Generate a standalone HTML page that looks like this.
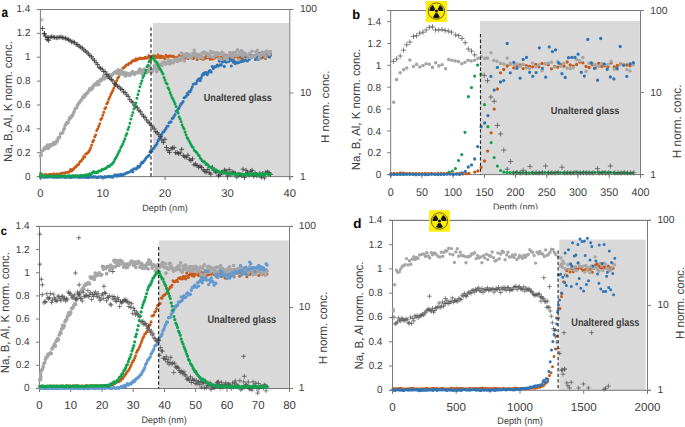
<!DOCTYPE html>
<html><head><meta charset="utf-8"><title>Depth profiles</title><style>
html,body{margin:0;padding:0;background:#fff;width:685px;height:427px;overflow:hidden}
svg{display:block}
text{font-family:"Liberation Sans",sans-serif;text-rendering:geometricPrecision}
</style></head><body>
<svg width="685" height="427" viewBox="0 0 685 427">
<rect x="0" y="0" width="685" height="427" fill="#fff"/>
<rect x="153" y="23" width="136" height="153.6" fill="#d9d9d9"/>
<line x1="36.9" y1="9.5" x2="293.3" y2="9.5" stroke="#7a7a7a" stroke-width="1"/>
<line x1="40.4" y1="9.5" x2="40.4" y2="180.1" stroke="#7a7a7a" stroke-width="1"/>
<line x1="289.8" y1="9.5" x2="289.8" y2="180.1" stroke="#7a7a7a" stroke-width="1"/>
<line x1="36.9" y1="176.6" x2="293.3" y2="176.6" stroke="#7a7a7a" stroke-width="1"/>
<line x1="36.9" y1="176.6" x2="40.4" y2="176.6" stroke="#7a7a7a" stroke-width="1"/>
<line x1="36.9" y1="152.7" x2="40.4" y2="152.7" stroke="#7a7a7a" stroke-width="1"/>
<line x1="36.9" y1="128.8" x2="40.4" y2="128.8" stroke="#7a7a7a" stroke-width="1"/>
<line x1="36.9" y1="105" x2="40.4" y2="105" stroke="#7a7a7a" stroke-width="1"/>
<line x1="36.9" y1="81.1" x2="40.4" y2="81.1" stroke="#7a7a7a" stroke-width="1"/>
<line x1="36.9" y1="57.2" x2="40.4" y2="57.2" stroke="#7a7a7a" stroke-width="1"/>
<line x1="36.9" y1="33.4" x2="40.4" y2="33.4" stroke="#7a7a7a" stroke-width="1"/>
<line x1="36.9" y1="9.5" x2="40.4" y2="9.5" stroke="#7a7a7a" stroke-width="1"/>
<line x1="289.8" y1="176.6" x2="293.3" y2="176.6" stroke="#7a7a7a" stroke-width="1"/>
<line x1="289.8" y1="93" x2="293.3" y2="93" stroke="#7a7a7a" stroke-width="1"/>
<line x1="289.8" y1="9.5" x2="293.3" y2="9.5" stroke="#7a7a7a" stroke-width="1"/>
<line x1="40.4" y1="176.6" x2="40.4" y2="180.1" stroke="#7a7a7a" stroke-width="1"/>
<line x1="102.7" y1="176.6" x2="102.7" y2="180.1" stroke="#7a7a7a" stroke-width="1"/>
<line x1="165.1" y1="176.6" x2="165.1" y2="180.1" stroke="#7a7a7a" stroke-width="1"/>
<line x1="227.4" y1="176.6" x2="227.4" y2="180.1" stroke="#7a7a7a" stroke-width="1"/>
<line x1="289.8" y1="176.6" x2="289.8" y2="180.1" stroke="#7a7a7a" stroke-width="1"/>
<rect x="480" y="21.1" width="159.9" height="153.5" fill="#d9d9d9"/>
<line x1="387.2" y1="10.5" x2="644" y2="10.5" stroke="#7a7a7a" stroke-width="1"/>
<line x1="390.7" y1="10.5" x2="390.7" y2="178.1" stroke="#7a7a7a" stroke-width="1"/>
<line x1="640.5" y1="10.5" x2="640.5" y2="178.1" stroke="#7a7a7a" stroke-width="1"/>
<line x1="387.2" y1="174.6" x2="644" y2="174.6" stroke="#7a7a7a" stroke-width="1"/>
<line x1="387.2" y1="174.6" x2="390.7" y2="174.6" stroke="#7a7a7a" stroke-width="1"/>
<line x1="387.2" y1="152.7" x2="390.7" y2="152.7" stroke="#7a7a7a" stroke-width="1"/>
<line x1="387.2" y1="130.9" x2="390.7" y2="130.9" stroke="#7a7a7a" stroke-width="1"/>
<line x1="387.2" y1="109" x2="390.7" y2="109" stroke="#7a7a7a" stroke-width="1"/>
<line x1="387.2" y1="87.2" x2="390.7" y2="87.2" stroke="#7a7a7a" stroke-width="1"/>
<line x1="387.2" y1="65.3" x2="390.7" y2="65.3" stroke="#7a7a7a" stroke-width="1"/>
<line x1="387.2" y1="43.5" x2="390.7" y2="43.5" stroke="#7a7a7a" stroke-width="1"/>
<line x1="387.2" y1="21.6" x2="390.7" y2="21.6" stroke="#7a7a7a" stroke-width="1"/>
<line x1="640.5" y1="174.6" x2="644" y2="174.6" stroke="#7a7a7a" stroke-width="1"/>
<line x1="640.5" y1="92.5" x2="644" y2="92.5" stroke="#7a7a7a" stroke-width="1"/>
<line x1="640.5" y1="10.5" x2="644" y2="10.5" stroke="#7a7a7a" stroke-width="1"/>
<line x1="390.7" y1="174.6" x2="390.7" y2="178.1" stroke="#7a7a7a" stroke-width="1"/>
<line x1="421.9" y1="174.6" x2="421.9" y2="178.1" stroke="#7a7a7a" stroke-width="1"/>
<line x1="453.1" y1="174.6" x2="453.1" y2="178.1" stroke="#7a7a7a" stroke-width="1"/>
<line x1="484.4" y1="174.6" x2="484.4" y2="178.1" stroke="#7a7a7a" stroke-width="1"/>
<line x1="515.6" y1="174.6" x2="515.6" y2="178.1" stroke="#7a7a7a" stroke-width="1"/>
<line x1="546.8" y1="174.6" x2="546.8" y2="178.1" stroke="#7a7a7a" stroke-width="1"/>
<line x1="578" y1="174.6" x2="578" y2="178.1" stroke="#7a7a7a" stroke-width="1"/>
<line x1="609.2" y1="174.6" x2="609.2" y2="178.1" stroke="#7a7a7a" stroke-width="1"/>
<line x1="640.5" y1="174.6" x2="640.5" y2="178.1" stroke="#7a7a7a" stroke-width="1"/>
<rect x="158.9" y="240.5" width="129.9" height="148" fill="#d9d9d9"/>
<line x1="36" y1="226.4" x2="293" y2="226.4" stroke="#7a7a7a" stroke-width="1"/>
<line x1="39.5" y1="226.4" x2="39.5" y2="392" stroke="#7a7a7a" stroke-width="1"/>
<line x1="289.5" y1="226.4" x2="289.5" y2="392" stroke="#7a7a7a" stroke-width="1"/>
<line x1="36" y1="388.5" x2="293" y2="388.5" stroke="#7a7a7a" stroke-width="1"/>
<line x1="36" y1="388.5" x2="39.5" y2="388.5" stroke="#7a7a7a" stroke-width="1"/>
<line x1="36" y1="365.3" x2="39.5" y2="365.3" stroke="#7a7a7a" stroke-width="1"/>
<line x1="36" y1="342.2" x2="39.5" y2="342.2" stroke="#7a7a7a" stroke-width="1"/>
<line x1="36" y1="319" x2="39.5" y2="319" stroke="#7a7a7a" stroke-width="1"/>
<line x1="36" y1="295.9" x2="39.5" y2="295.9" stroke="#7a7a7a" stroke-width="1"/>
<line x1="36" y1="272.7" x2="39.5" y2="272.7" stroke="#7a7a7a" stroke-width="1"/>
<line x1="36" y1="249.6" x2="39.5" y2="249.6" stroke="#7a7a7a" stroke-width="1"/>
<line x1="36" y1="226.4" x2="39.5" y2="226.4" stroke="#7a7a7a" stroke-width="1"/>
<line x1="289.5" y1="388.5" x2="293" y2="388.5" stroke="#7a7a7a" stroke-width="1"/>
<line x1="289.5" y1="307.5" x2="293" y2="307.5" stroke="#7a7a7a" stroke-width="1"/>
<line x1="289.5" y1="226.4" x2="293" y2="226.4" stroke="#7a7a7a" stroke-width="1"/>
<line x1="39.5" y1="388.5" x2="39.5" y2="392" stroke="#7a7a7a" stroke-width="1"/>
<line x1="70.7" y1="388.5" x2="70.7" y2="392" stroke="#7a7a7a" stroke-width="1"/>
<line x1="102" y1="388.5" x2="102" y2="392" stroke="#7a7a7a" stroke-width="1"/>
<line x1="133.2" y1="388.5" x2="133.2" y2="392" stroke="#7a7a7a" stroke-width="1"/>
<line x1="164.5" y1="388.5" x2="164.5" y2="392" stroke="#7a7a7a" stroke-width="1"/>
<line x1="195.7" y1="388.5" x2="195.7" y2="392" stroke="#7a7a7a" stroke-width="1"/>
<line x1="227" y1="388.5" x2="227" y2="392" stroke="#7a7a7a" stroke-width="1"/>
<line x1="258.2" y1="388.5" x2="258.2" y2="392" stroke="#7a7a7a" stroke-width="1"/>
<line x1="289.5" y1="388.5" x2="289.5" y2="392" stroke="#7a7a7a" stroke-width="1"/>
<rect x="559.3" y="239.6" width="86.3" height="150.7" fill="#d9d9d9"/>
<line x1="389" y1="220.4" x2="651" y2="220.4" stroke="#7a7a7a" stroke-width="1"/>
<line x1="392.5" y1="220.4" x2="392.5" y2="393.8" stroke="#7a7a7a" stroke-width="1"/>
<line x1="647.5" y1="220.4" x2="647.5" y2="393.8" stroke="#7a7a7a" stroke-width="1"/>
<line x1="389" y1="390.3" x2="651" y2="390.3" stroke="#7a7a7a" stroke-width="1"/>
<line x1="389" y1="390.3" x2="392.5" y2="390.3" stroke="#7a7a7a" stroke-width="1"/>
<line x1="389" y1="366" x2="392.5" y2="366" stroke="#7a7a7a" stroke-width="1"/>
<line x1="389" y1="341.8" x2="392.5" y2="341.8" stroke="#7a7a7a" stroke-width="1"/>
<line x1="389" y1="317.5" x2="392.5" y2="317.5" stroke="#7a7a7a" stroke-width="1"/>
<line x1="389" y1="293.2" x2="392.5" y2="293.2" stroke="#7a7a7a" stroke-width="1"/>
<line x1="389" y1="268.9" x2="392.5" y2="268.9" stroke="#7a7a7a" stroke-width="1"/>
<line x1="389" y1="244.7" x2="392.5" y2="244.7" stroke="#7a7a7a" stroke-width="1"/>
<line x1="389" y1="220.4" x2="392.5" y2="220.4" stroke="#7a7a7a" stroke-width="1"/>
<line x1="647.5" y1="390.3" x2="651" y2="390.3" stroke="#7a7a7a" stroke-width="1"/>
<line x1="647.5" y1="305.4" x2="651" y2="305.4" stroke="#7a7a7a" stroke-width="1"/>
<line x1="647.5" y1="220.4" x2="651" y2="220.4" stroke="#7a7a7a" stroke-width="1"/>
<line x1="392.5" y1="390.3" x2="392.5" y2="393.8" stroke="#7a7a7a" stroke-width="1"/>
<line x1="456.2" y1="390.3" x2="456.2" y2="393.8" stroke="#7a7a7a" stroke-width="1"/>
<line x1="520" y1="390.3" x2="520" y2="393.8" stroke="#7a7a7a" stroke-width="1"/>
<line x1="583.7" y1="390.3" x2="583.7" y2="393.8" stroke="#7a7a7a" stroke-width="1"/>
<line x1="647.5" y1="390.3" x2="647.5" y2="393.8" stroke="#7a7a7a" stroke-width="1"/>
<path d="M40.5 175h0M41.5 174.3h0M42.5 175.3h0M43.5 174.9h0M44.5 174.7h0M45.5 174.7h0M46.5 174.6h0M47.5 175.2h0M48.5 175.2h0M49.5 174.3h0M50.5 174.5h0M51.5 174.6h0M52.6 174.9h0M53.6 173.7h0M54.6 174.6h0M55.6 174.8h0M56.6 174.1h0M57.6 174.1h0M58.6 174.4h0M59.6 174h0M60.6 173.4h0M61.6 173.3h0M62.6 173.2h0M63.6 172.9h0M64.6 173.1h0M65.6 172.6h0M66.6 172.5h0M67.6 172.3h0M68.6 172.2h0M69.6 171.2h0M70.6 169.5h0M71.6 170.9h0M72.6 169.3h0M73.6 169.3h0M74.6 167.5h0M75.7 167.1h0M76.7 165.8h0M77.7 164.7h0M78.7 164.3h0M79.7 161.9h0M80.7 161.2h0M81.7 160.2h0M82.7 158.7h0M83.7 156.6h0M84.7 157h0M85.7 153.9h0M86.7 153.4h0M87.7 152.7h0M88.7 151.7h0M89.7 150.1h0M90.7 147.7h0M91.7 145h0M92.7 141.8h0M93.7 140.2h0M94.7 136.8h0M95.7 135.1h0M96.7 130.6h0M97.7 128.7h0M98.8 126.2h0M99.8 123.8h0M100.8 119.4h0M101.8 118.2h0M102.8 115.2h0M103.8 112.2h0M104.8 108.7h0M105.8 107.4h0M106.8 103.8h0M107.8 102.2h0M108.8 99.3h0M109.8 97h0M110.8 94.6h0M111.8 92.4h0M112.8 90.6h0M113.8 88.3h0M114.8 85.6h0M115.8 82.8h0M116.8 80.4h0M117.8 78.1h0M118.8 76.7h0M119.8 73.3h0M120.8 71.4h0M121.9 70.2h0M122.9 67.9h0M123.9 67.6h0M124.9 66.7h0M125.9 65.3h0M126.9 64.7h0M127.9 64.8h0M128.9 63.5h0M129.9 63h0M130.9 63h0M131.9 61.4h0M132.9 60.5h0M133.9 60.7h0M134.9 60.5h0M135.9 58.7h0M136.9 59.9h0M137.9 59h0M138.9 58.7h0M139.9 58.1h0M140.9 58.3h0M141.9 58.7h0M142.9 58.2h0M143.9 58.2h0M145 57.3h0M146 58.3h0M147 58h0M148 57.1h0M149 55.5h0M150 57h0M151 59.9h0M152 56.8h0M153 55.7h0M154 58.6h0M155 56h0M156 57.2h0M157 57.4h0M158 54.9h0M159 56.7h0M160 57.8h0M161 56.1h0M162 57.2h0M163 56.5h0M164 57.6h0M165 58.5h0M166 55.3h0M167.1 56.2h0M168.1 57h0M169.1 55.9h0M170.1 55.7h0M171.1 56.2h0M172.1 56.4h0M173.1 56h0M174.1 57.1h0M175.1 57.6h0M176.1 57.6h0M177.1 57.6h0M178.1 58.2h0M179.1 55.4h0M180.1 56.8h0M181.1 57.1h0M182.1 57.5h0M183.1 55.2h0M184.1 59.1h0M185.1 56.1h0M186.1 57.4h0M187.1 57.9h0M188.1 58.4h0M189.1 56.5h0M190.2 56.7h0M191.2 57.7h0M192.2 58h0M193.2 58.4h0M194.2 57.4h0M195.2 56.7h0M196.2 56h0M197.2 59.5h0M198.2 56.1h0M199.2 58.4h0M200.2 58h0M201.2 58.5h0M202.2 58.8h0M203.2 59.2h0M204.2 57.7h0M205.2 58.2h0M206.2 55.6h0M207.2 57.8h0M208.2 56.8h0M209.2 57.6h0M210.2 59.2h0M211.2 57.9h0M212.2 59h0M213.3 57.5h0M214.3 58.2h0M215.3 57.2h0M216.3 54.9h0M217.3 56.8h0M218.3 57.3h0M219.3 57.7h0M220.3 57.5h0M221.3 57.3h0M222.3 58.4h0M223.3 58h0M224.3 56.9h0M225.3 58.2h0M226.3 55h0M227.3 56.8h0M228.3 56.9h0M229.3 58.5h0M230.3 56.4h0M231.3 55.3h0M232.3 57.1h0M233.3 58.7h0M234.3 56.6h0M235.3 56.7h0M236.4 56.5h0M237.4 56.7h0M238.4 58.1h0M239.4 58.8h0M240.4 57.1h0M241.4 56.5h0M242.4 58.6h0M243.4 56.6h0M244.4 56.6h0M245.4 56.1h0M246.4 56.1h0M247.4 56.7h0M248.4 56.1h0M249.4 56.8h0M250.4 56.5h0M251.4 57h0M252.4 55.9h0M253.4 56.1h0M254.4 56.5h0M255.4 56.3h0M256.4 56.3h0M257.4 57.5h0M258.4 55h0M259.5 54h0M260.5 57h0M261.5 55.9h0M262.5 57.6h0M263.5 56h0M264.5 54.8h0M265.5 58.5h0M266.5 56.5h0M267.5 55.6h0M268.5 55.2h0M269.5 56.7h0M270.5 55.3h0" stroke="#c85a18" stroke-width="3" stroke-linecap="round" fill="none"/>
<path d="M40.5 177.3h0M41.5 177.3h0M42.5 177h0M43.5 177.1h0M44.5 177.1h0M45.5 177h0M46.5 177.2h0M47.5 176.8h0M48.5 176.9h0M49.5 177h0M50.5 176.6h0M51.5 176.8h0M52.6 177.1h0M53.6 177.1h0M54.6 176.4h0M55.6 177.2h0M56.6 177.1h0M57.6 177.2h0M58.6 177h0M59.6 177.2h0M60.6 176.7h0M61.6 177h0M62.6 176.7h0M63.6 176.9h0M64.6 177.3h0M65.6 177.4h0M66.6 177h0M67.6 176.9h0M68.6 177.2h0M69.6 177.1h0M70.6 177.5h0M71.6 177.2h0M72.6 176.4h0M73.6 177h0M74.6 176.9h0M75.7 176.8h0M76.7 177h0M77.7 177h0M78.7 176.9h0M79.7 177.4h0M80.7 177.1h0M81.7 177.1h0M82.7 177h0M83.7 177.3h0M84.7 176.7h0M85.7 177.3h0M86.7 176.9h0M87.7 177.4h0M88.7 177.4h0M89.7 177.1h0M90.7 176.9h0M91.7 177.1h0M92.7 177.1h0M93.7 176.6h0M94.7 176.9h0M95.7 176.8h0M96.7 177.4h0M97.7 177.4h0M98.8 176.8h0M99.8 176.9h0M100.8 176.7h0M101.8 177.1h0M102.8 177.2h0M103.8 177.4h0M104.8 176.6h0M105.8 177.1h0M106.8 176.8h0M107.8 176.6h0M108.8 176.6h0M109.8 176.4h0M110.8 176.9h0M111.8 176.5h0M112.8 177.3h0M113.8 176h0M114.8 174.9h0M115.8 175.4h0M116.8 176.2h0M117.8 174.8h0M118.8 175.1h0M119.8 175.8h0M120.8 174.3h0M121.9 175.6h0M122.9 174.9h0M123.9 174h0M124.9 174h0M125.9 173.3h0M126.9 172.9h0M127.9 172.5h0M128.9 172.3h0M129.9 171.8h0M130.9 170.8h0M131.9 170.1h0M132.9 171.7h0M133.9 168.8h0M134.9 168.8h0M135.9 169.1h0M136.9 168.2h0M137.9 166.2h0M138.9 167.3h0M139.9 166.3h0M140.9 163.9h0M141.9 162.4h0M142.9 162.6h0M143.9 161h0M145 159.7h0M146 158.1h0M147 157h0M148 156.2h0M149 155.4h0M150 151.9h0M151 150.3h0M152 151.3h0M153 148.5h0M154 148.1h0M155 146.1h0M156 145.3h0M157 143.4h0M158 140.9h0M159 139.3h0M160 138h0M161 136.7h0M162 134.1h0M163 132h0M164 131.6h0M165 130h0M166 128.4h0M167.1 126.3h0M168.1 126h0M169.1 122.8h0M170.1 122.1h0M171.1 121.8h0M172.1 118.5h0M173.1 117.9h0M174.1 116.2h0M175.1 114.5h0M176.1 111.3h0M177.1 111.5h0M178.1 109.2h0M179.1 107.7h0M180.1 105.8h0M181.1 103.9h0M182.1 103.1h0M183.1 101.6h0M184.1 97.8h0M185.1 97.2h0M186.1 96.2h0M187.1 93.5h0M188.1 94.6h0M189.1 91.6h0M190.2 91.7h0M191.2 89.5h0M192.2 87.1h0M193.2 84.2h0M194.2 84h0M195.2 83.6h0M196.2 83.6h0M197.2 80.9h0M198.2 79.6h0M199.2 78.9h0M200.2 80.6h0M201.2 77.9h0M202.2 75.4h0M203.2 73.5h0M204.2 74.1h0M205.2 72.5h0M206.2 72.5h0M207.2 74.7h0M208.2 72.7h0M209.2 71.1h0M210.2 70.6h0M211.2 72.1h0M212.2 66.5h0M213.3 68.6h0M214.3 66.9h0M215.3 66.9h0M216.3 66.3h0M217.3 65.1h0M218.3 66.1h0M219.3 61.1h0M220.3 64.8h0M221.3 65.1h0M222.3 62h0M223.3 61.7h0M224.3 66.4h0M225.3 61.4h0M226.3 62.1h0M227.3 61.3h0M228.3 61.4h0M229.3 61.1h0M230.3 58.5h0M231.3 66h0M232.3 60.6h0M233.3 62.3h0M234.3 61.3h0M235.3 63.6h0M236.4 62.3h0M237.4 62.8h0M238.4 62.7h0M239.4 61.9h0M240.4 60.3h0M241.4 61.6h0M242.4 57.1h0M243.4 61.1h0M244.4 60.6h0M245.4 59.7h0M246.4 56.7h0M247.4 61h0M248.4 57.3h0M249.4 59.3h0M250.4 54.8h0M251.4 57.3h0M252.4 56.3h0M253.4 55.8h0M254.4 55.7h0M255.4 59.5h0M256.4 56.2h0M257.4 56.6h0M258.4 59.5h0M259.5 53.3h0M260.5 58.2h0M261.5 54.9h0M262.5 54.4h0M263.5 54.7h0M264.5 52.2h0M265.5 52.6h0M266.5 53.3h0M267.5 54.2h0M268.5 56.3h0M269.5 56.9h0M270.5 54.4h0" stroke="#2f74b5" stroke-width="3.1" stroke-linecap="round" fill="none"/>
<path d="M40.5 156.1h0M41.3 154.9h0M42 151.3h0M42.8 150.6h0M43.6 149.9h0M44.3 148.5h0M45.1 147.3h0M45.9 148.5h0M46.7 147.7h0M47.4 145.1h0M48.2 148.5h0M49 146.9h0M49.7 144.9h0M50.5 146.1h0M51.3 144.5h0M52 144.5h0M52.8 144.9h0M53.6 142.6h0M54.3 143.8h0M55.1 143.9h0M55.9 143.1h0M56.7 140.9h0M57.4 141.1h0M58.2 137.9h0M59 138h0M59.7 137.1h0M60.5 133.8h0M61.3 133.3h0M62 133.3h0M62.8 132.7h0M63.6 129.7h0M64.3 128.5h0M65.1 125.6h0M65.9 124.1h0M66.7 122.7h0M67.4 123.2h0M68.2 122.2h0M69 119.7h0M69.7 117.9h0M70.5 118.1h0M71.3 116.9h0M72 115.3h0M72.8 115.3h0M73.6 112.7h0M74.3 111.3h0M75.1 108.8h0M75.9 108.3h0M76.7 107.9h0M77.4 105.4h0M78.2 104.1h0M79 103.2h0M79.7 101.9h0M80.5 101h0M81.3 99.9h0M82 99h0M82.8 97h0M83.6 97.4h0M84.3 95.2h0M85.1 96.1h0M85.9 93.8h0M86.7 93.7h0M87.4 93.1h0M88.2 91.3h0M89 91h0M89.7 88.7h0M90.5 88.7h0M91.3 89.5h0M92 87.2h0M92.8 88.1h0M93.6 85.6h0M94.3 85.3h0M95.1 83.8h0M95.9 84.8h0M96.7 84.9h0M97.4 81.8h0M98.2 82.4h0M99 84.5h0M99.7 80.9h0M100.5 79.5h0M101.3 80.7h0M102 79.2h0M102.8 77.9h0M103.6 75.7h0M104.3 79h0M105.1 76.4h0M105.9 76.8h0M106.7 74.7h0M107.4 77.8h0M108.2 76.6h0M109 76.6h0M109.7 74.7h0M110.5 75.2h0M111.3 75.5h0M112 75.4h0M112.8 74.1h0M113.6 73.3h0M114.3 72.6h0M115.1 71.9h0M115.9 71.5h0M116.7 73.4h0M117.4 72.5h0M118.2 69.9h0M119 72.7h0M119.7 74.5h0M120.5 72.6h0M121.3 70.2h0M122 72.8h0M122.8 74.2h0M123.6 73.4h0M124.3 72.5h0M125.1 75.9h0M125.9 76h0M126.7 73h0M127.4 74.4h0M128.2 73.8h0M129 74.4h0M129.7 75.4h0M130.5 74.4h0M131.3 73.2h0M132 72h0M132.8 71.7h0M133.6 72.8h0M134.3 74.4h0M135.1 73h0M135.9 72.5h0M136.7 72.7h0M137.4 72.3h0M138.2 72.9h0M139 70.3h0M139.7 69h0M140.5 71.2h0M141.3 70h0M142 74.1h0M142.8 71.4h0M143.6 71.1h0M144.3 69.1h0M145.1 71.8h0M145.9 70.3h0M146.7 72.8h0M147.4 72.3h0M148.2 69.7h0M149 71.3h0M149.7 66.4h0M150.5 68.9h0M151.3 72.6h0M152 71.4h0M152.8 69.9h0M153.6 69.1h0M154.3 65.9h0M155.1 65.7h0M155.9 68.7h0M156.7 71.6h0M157.4 63h0M158.2 68.6h0M159 68.2h0M159.7 68.6h0M160.5 64.4h0M161.3 64.7h0M162 65.5h0M162.8 62.8h0M163.6 62h0M164.3 62.3h0M165.1 63.6h0M165.9 64.1h0M166.7 62.9h0M167.4 62.8h0M168.2 60.8h0M169 60.4h0M169.7 63.9h0M170.5 61.1h0M171.3 60.7h0M172 62.5h0M172.8 62.8h0M173.6 62.6h0M174.3 60.5h0M175.1 59.3h0M175.9 59.7h0M176.7 59.2h0M177.4 61.5h0M178.2 58.9h0M179 59.4h0M179.7 57.8h0M180.5 60.4h0M181.3 53h0M182 57.9h0M182.8 58.4h0M183.6 54.2h0M184.3 60.9h0M185.1 55.9h0M185.9 55.7h0M186.7 53.6h0M187.4 57.6h0M188.2 56.1h0M189 54.3h0M189.7 56h0M190.5 56.9h0M191.3 57.9h0M192 55.8h0M192.8 53.2h0M193.6 54h0M194.3 50.3h0M195.1 53.6h0M195.9 56.6h0M196.7 56h0M197.4 54.8h0M198.2 54.2h0M199 58.3h0M199.7 55.5h0M200.5 56.8h0M201.3 55.7h0M202 53.4h0M202.8 58.1h0M203.6 52.2h0M204.3 52.3h0M205.1 53.9h0M205.9 53.3h0M206.7 53.6h0M207.4 53.5h0M208.2 56.8h0M209 54.9h0M209.7 55.5h0M210.5 51.4h0M211.3 53h0M212 57h0M212.8 52.2h0M213.6 57.2h0M214.3 52.5h0M215.1 55.3h0M215.9 52.9h0M216.7 55.1h0M217.4 52.8h0M218.2 54.1h0M219 58.2h0M219.7 53.9h0M220.5 58.9h0M221.3 53.7h0M222 52.2h0M222.8 54.8h0M223.6 53.8h0M224.3 58.3h0M225.1 56.4h0M225.9 57.1h0M226.7 55.9h0M227.4 59.8h0M228.2 56.3h0M229 55.7h0M229.7 52.9h0M230.5 52.7h0M231.3 55h0M232 56.7h0M232.8 56.9h0M233.6 52.6h0M234.3 55.7h0M235.1 55h0M235.9 52.2h0M236.7 55.6h0M237.4 49.8h0M238.2 55.1h0M239 59.8h0M239.7 52.4h0M240.5 54.6h0M241.3 50.6h0M242 53h0M242.8 56.1h0M243.6 52.4h0M244.3 54.5h0M245.1 53.8h0M245.9 53.7h0M246.7 54.9h0M247.4 55.5h0M248.2 57.1h0M249 56.3h0M249.7 53.3h0M250.5 57.5h0M251.3 57.1h0M252 51.2h0M252.8 55.9h0M253.6 56.3h0M254.3 56.5h0M255.1 55.7h0M255.9 51.8h0M256.7 53.9h0M257.4 50.2h0M258.2 54.2h0M259 58.8h0M259.7 55.9h0M260.5 56.3h0M261.3 53.4h0M262 52.4h0M262.8 52.3h0M263.6 54.8h0M264.3 52.8h0M265.1 53.2h0M265.9 56.9h0M266.7 51.1h0M267.4 51.7h0M268.2 53.4h0M269 54.3h0M269.7 54.2h0M270.5 51.6h0" stroke="#a6a6a6" stroke-width="3.6" stroke-linecap="round" fill="none"/>
<path d="M40.1 28.5h4.8M42.5 26.1v4.8M41.6 33.9h4.8M44 31.5v4.8M43.2 36.2h4.8M45.6 33.8v4.8M44.7 37.5h4.8M47.1 35.1v4.8M46.2 37.6h4.8M48.6 35.2v4.8M47.8 37.5h4.8M50.2 35.1v4.8M49.3 36.6h4.8M51.7 34.2v4.8M50.8 37.2h4.8M53.2 34.8v4.8M52.3 37.4h4.8M54.7 35v4.8M53.9 37.9h4.8M56.3 35.5v4.8M55.4 37.5h4.8M57.8 35.1v4.8M56.9 37.3h4.8M59.3 34.9v4.8M58.5 36.9h4.8M60.9 34.5v4.8M60 37.6h4.8M62.4 35.2v4.8M61.5 38h4.8M63.9 35.6v4.8M63.1 38.3h4.8M65.5 35.9v4.8M64.6 38.9h4.8M67 36.5v4.8M66.1 39.7h4.8M68.5 37.3v4.8M67.6 40.4h4.8M70 38v4.8M69.2 42h4.8M71.6 39.6v4.8M70.7 41.8h4.8M73.1 39.4v4.8M72.2 42.6h4.8M74.6 40.2v4.8M73.8 44.4h4.8M76.2 42v4.8M75.3 44.7h4.8M77.7 42.3v4.8M76.8 46.2h4.8M79.2 43.8v4.8M78.4 47.3h4.8M80.8 44.9v4.8M79.9 48.1h4.8M82.3 45.7v4.8M81.4 49.9h4.8M83.8 47.5v4.8M82.9 51.1h4.8M85.3 48.7v4.8M84.5 52.2h4.8M86.9 49.8v4.8M86 53.9h4.8M88.4 51.5v4.8M87.5 55.6h4.8M89.9 53.2v4.8M89.1 56.8h4.8M91.5 54.4v4.8M90.6 58.9h4.8M93 56.5v4.8M92.1 60.7h4.8M94.5 58.3v4.8M93.7 62.7h4.8M96.1 60.3v4.8M95.2 64.6h4.8M97.6 62.2v4.8M96.7 67.3h4.8M99.1 64.9v4.8M98.2 68.3h4.8M100.6 65.9v4.8M99.8 69.2h4.8M102.2 66.8v4.8M101.3 71.5h4.8M103.7 69.1v4.8M102.8 71.8h4.8M105.2 69.4v4.8M104.4 74.4h4.8M106.8 72v4.8M105.9 76.2h4.8M108.3 73.8v4.8M107.4 78.2h4.8M109.8 75.8v4.8M109 79.5h4.8M111.4 77.1v4.8M110.5 80.9h4.8M112.9 78.5v4.8M112 83.6h4.8M114.4 81.2v4.8M113.5 84.7h4.8M115.9 82.3v4.8M115.1 86.2h4.8M117.5 83.8v4.8M116.6 87h4.8M119 84.6v4.8M118.1 88.9h4.8M120.5 86.5v4.8M119.7 89.5h4.8M122.1 87.1v4.8M121.2 92h4.8M123.6 89.6v4.8M122.7 92.6h4.8M125.1 90.2v4.8M124.3 94.8h4.8M126.7 92.4v4.8M125.8 96.4h4.8M128.2 94v4.8M127.3 99.4h4.8M129.7 97v4.8M128.9 101.2h4.8M131.3 98.8v4.8M130.4 102.6h4.8M132.8 100.2v4.8M131.9 105.2h4.8M134.3 102.8v4.8M133.4 106.7h4.8M135.8 104.3v4.8M135 107.8h4.8M137.4 105.4v4.8M136.5 110.3h4.8M138.9 107.9v4.8M138 111.7h4.8M140.4 109.3v4.8M139.6 114.3h4.8M142 111.9v4.8M141.1 116.2h4.8M143.5 113.8v4.8M142.6 117.6h4.8M145 115.2v4.8M144.2 120h4.8M146.6 117.6v4.8M145.7 122h4.8M148.1 119.6v4.8M147.2 123h4.8M149.6 120.6v4.8M148.7 125.4h4.8M151.1 123v4.8M150.3 127.1h4.8M152.7 124.7v4.8M151.8 128.9h4.8M154.2 126.5v4.8M153.3 131.7h4.8M155.7 129.3v4.8M154.9 132.7h4.8M157.3 130.3v4.8M156.4 134.7h4.8M158.8 132.3v4.8M157.9 136.4h4.8M160.3 134v4.8M159.5 140h4.8M161.9 137.6v4.8M161 142.3h4.8M163.4 139.9v4.8M162.5 139.3h4.8M164.9 136.9v4.8M164 147.5h4.8M166.4 145.1v4.8M165.6 150.4h4.8M168 148v4.8M167.1 152.4h4.8M169.5 150v4.8M168.6 148.7h4.8M171 146.3v4.8M170.2 148h4.8M172.6 145.6v4.8M171.7 147.7h4.8M174.1 145.3v4.8M173.2 152.7h4.8M175.6 150.3v4.8M174.8 152.6h4.8M177.2 150.2v4.8M176.3 153.6h4.8M178.7 151.2v4.8M177.8 152.9h4.8M180.2 150.5v4.8M179.3 149.3h4.8M181.7 146.9v4.8M180.9 155.6h4.8M183.3 153.2v4.8M182.4 156.8h4.8M184.8 154.4v4.8M183.9 157.2h4.8M186.3 154.8v4.8M185.5 155.2h4.8M187.9 152.8v4.8M187 159.3h4.8M189.4 156.9v4.8M188.5 160.6h4.8M190.9 158.2v4.8M190.1 158.9h4.8M192.5 156.5v4.8M191.6 164.8h4.8M194 162.4v4.8M193.1 164h4.8M195.5 161.6v4.8M194.7 165.5h4.8M197.1 163.1v4.8M196.2 167.1h4.8M198.6 164.7v4.8M197.7 166.2h4.8M200.1 163.8v4.8M199.2 167.4h4.8M201.6 165v4.8M200.8 169.8h4.8M203.2 167.4v4.8M202.3 171.2h4.8M204.7 168.8v4.8M203.8 172.1h4.8M206.2 169.7v4.8M205.4 169.6h4.8M207.8 167.2v4.8M206.9 172.7h4.8M209.3 170.3v4.8M208.4 174.1h4.8M210.8 171.7v4.8M210 167.3h4.8M212.4 164.9v4.8M211.5 170.4h4.8M213.9 168v4.8M213 171.8h4.8M215.4 169.4v4.8M214.5 172.1h4.8M216.9 169.7v4.8M216.1 175.8h4.8M218.5 173.4v4.8M217.6 174.8h4.8M220 172.4v4.8M219.1 172.3h4.8M221.5 169.9v4.8M220.7 172.5h4.8M223.1 170.1v4.8M222.2 170h4.8M224.6 167.6v4.8M223.7 171h4.8M226.1 168.6v4.8M225.3 175.8h4.8M227.7 173.4v4.8M226.8 169.7h4.8M229.2 167.3v4.8M228.3 174.5h4.8M230.7 172.1v4.8M229.8 171.9h4.8M232.2 169.5v4.8M231.4 172.8h4.8M233.8 170.4v4.8M232.9 173.2h4.8M235.3 170.8v4.8M234.4 177.1h4.8M236.8 174.7v4.8M236 174.2h4.8M238.4 171.8v4.8M237.5 174.6h4.8M239.9 172.2v4.8M239 175.6h4.8M241.4 173.2v4.8M240.6 169.2h4.8M243 166.8v4.8M242.1 177.4h4.8M244.5 175v4.8M243.6 170.3h4.8M246 167.9v4.8M245.1 172.3h4.8M247.5 169.9v4.8M246.7 175.1h4.8M249.1 172.7v4.8M248.2 171.3h4.8M250.6 168.9v4.8M249.7 170.3h4.8M252.1 167.9v4.8M251.3 176.2h4.8M253.7 173.8v4.8M252.8 173.2h4.8M255.2 170.8v4.8M254.3 175.8h4.8M256.7 173.4v4.8M255.9 174.9h4.8M258.3 172.5v4.8M257.4 173.5h4.8M259.8 171.1v4.8M258.9 177.3h4.8M261.3 174.9v4.8M260.4 173.4h4.8M262.8 171v4.8M262 178h4.8M264.4 175.6v4.8M263.5 172.2h4.8M265.9 169.8v4.8M265 172h4.8M267.4 169.6v4.8M266.6 172.6h4.8M269 170.2v4.8M268.1 174.4h4.8M270.5 172v4.8M46.1 40.5h4.8M48.5 38.1v4.8M44.8 39.5h4.8M47.2 37.1v4.8M42.1 33.6h4.8M44.5 31.2v4.8" stroke="#353535" stroke-width="0.8" fill="none"/>
<path d="M39.7 19.8h4.2M41.8 17.7v4.2" stroke="#9a9a9a" stroke-width="0.8" fill="none"/>
<path d="M40.5 175.9h0M41.5 176.4h0M42.5 176.3h0M43.5 176.2h0M44.5 175.8h0M45.5 176.3h0M46.5 175.9h0M47.5 175.9h0M48.5 175.9h0M49.5 176h0M50.5 176.1h0M51.5 176.2h0M52.6 176.2h0M53.6 176.8h0M54.6 175.9h0M55.6 176.3h0M56.6 175.8h0M57.6 175.9h0M58.6 175.7h0M59.6 176.3h0M60.6 176h0M61.6 176h0M62.6 175.9h0M63.6 176.2h0M64.6 175.8h0M65.6 176h0M66.6 176.6h0M67.6 175.9h0M68.6 175.8h0M69.6 175.7h0M70.6 176.1h0M71.6 175.9h0M72.6 175.7h0M73.6 175.7h0M74.6 175.9h0M75.7 175.6h0M76.7 176.4h0M77.7 175.8h0M78.7 175.8h0M79.7 175.8h0M80.7 175.3h0M81.7 175.4h0M82.7 175.5h0M83.7 175.4h0M84.7 174.9h0M85.7 175.4h0M86.7 174.8h0M87.7 174.8h0M88.7 174.4h0M89.7 173.8h0M90.7 174.9h0M91.7 173.4h0M92.7 172.2h0M93.7 171.6h0M94.7 172.5h0M95.7 172.6h0M96.7 171.9h0M97.7 172.4h0M98.8 171h0M99.8 171h0M100.8 170.7h0M101.8 169.4h0M102.8 169.5h0M103.8 169h0M104.8 168.8h0M105.8 168.3h0M106.8 167.6h0M107.8 166.2h0M108.8 166.4h0M109.8 165.9h0M110.8 164.7h0M111.8 164.2h0M112.8 163.1h0M113.8 161.8h0M114.8 159.6h0M115.8 158.1h0M116.8 156.2h0M117.8 154.3h0M118.8 152.1h0M119.8 150.2h0M120.8 147.6h0M121.9 145.8h0M122.9 143.8h0M123.9 141.2h0M124.9 138.7h0M125.9 135.5h0M126.9 133.4h0M127.9 129.4h0M128.9 126.9h0M129.9 123.2h0M130.9 119h0M131.9 115.4h0M132.9 112.5h0M133.9 108.7h0M134.9 105.2h0M135.9 103.1h0M136.9 98.3h0M137.9 94.5h0M138.9 91.1h0M139.9 86.7h0M140.9 83.5h0M141.9 80.8h0M142.9 77.6h0M143.9 75.5h0M145 72.9h0M146 70.3h0M147 66.4h0M148 65.2h0M149 61.7h0M150 59.7h0M151 56.8h0M152 56.3h0M153 57.7h0M154 58.9h0M155 61h0M156 61.8h0M157 63.2h0M158 65.3h0M159 67.1h0M160 68.9h0M161 70.2h0M162 72.3h0M163 74h0M164 77.5h0M165 80h0M166 82.7h0M167.1 83.9h0M168.1 87.8h0M169.1 89.5h0M170.1 92.5h0M171.1 94.9h0M172.1 97.6h0M173.1 99.2h0M174.1 101.5h0M175.1 103.8h0M176.1 106.6h0M177.1 110.6h0M178.1 113h0M179.1 116.7h0M180.1 118.8h0M181.1 121.4h0M182.1 124.7h0M183.1 127.3h0M184.1 129h0M185.1 132.1h0M186.1 134.8h0M187.1 137.6h0M188.1 139h0M189.1 141h0M190.2 142.9h0M191.2 145h0M192.2 146.7h0M193.2 147.5h0M194.2 150.3h0M195.2 151.1h0M196.2 152.1h0M197.2 153.1h0M198.2 155.1h0M199.2 155.5h0M200.2 158h0M201.2 159.3h0M202.2 160.8h0M203.2 161.5h0M204.2 161.4h0M205.2 163.1h0M206.2 164.5h0M207.2 163.9h0M208.2 165.3h0M209.2 166.8h0M210.2 167.2h0M211.2 166.9h0M212.2 168.2h0M213.3 169.1h0M214.3 170.6h0M215.3 169.8h0M216.3 170h0M217.3 170.9h0M218.3 171.2h0M219.3 171.7h0M220.3 172.4h0M221.3 171.9h0M222.3 171.5h0M223.3 172.4h0M224.3 172.6h0M225.3 173.2h0M226.3 173.3h0M227.3 172.7h0M228.3 173.6h0M229.3 173.8h0M230.3 173.4h0M231.3 174h0M232.3 173.8h0M233.3 173.9h0M234.3 173.8h0M235.3 174.4h0M236.4 175.5h0M237.4 174.2h0M238.4 173.5h0M239.4 174h0M240.4 173.9h0M241.4 174.3h0M242.4 174.1h0M243.4 175.5h0M244.4 174.6h0M245.4 175.1h0M246.4 173.9h0M247.4 174.1h0M248.4 175.3h0M249.4 173.4h0M250.4 174.3h0M251.4 173.5h0M252.4 175h0M253.4 173.6h0M254.4 174.1h0M255.4 174.2h0M256.4 173.4h0M257.4 175.5h0M258.4 174.2h0M259.5 175.1h0M260.5 174h0M261.5 173.6h0M262.5 174.4h0M263.5 174.4h0M264.5 175.8h0M265.5 173.8h0M266.5 173.5h0M267.5 174h0M268.5 174.5h0M269.5 174.6h0M270.5 173.9h0M40.6 173.6h0M41.2 174.6h0" stroke="#12a24f" stroke-width="3" stroke-linecap="round" fill="none"/>
<line x1="151" y1="27.5" x2="151" y2="176.6" stroke="#2a2a2a" stroke-width="1.2" stroke-dasharray="3.3 2.3"/>
<text x="30.5" y="179.5" font-size="10.3" text-anchor="end" fill="#404040" textLength="5.56" lengthAdjust="spacingAndGlyphs">0</text>
<text x="30.6" y="155.6" font-size="10.3" text-anchor="end" fill="#404040" textLength="13.89" lengthAdjust="spacingAndGlyphs">0.2</text>
<text x="30.4" y="131.7" font-size="10.3" text-anchor="end" fill="#404040" textLength="13.89" lengthAdjust="spacingAndGlyphs">0.4</text>
<text x="30.5" y="107.9" font-size="10.3" text-anchor="end" fill="#404040" textLength="13.89" lengthAdjust="spacingAndGlyphs">0.6</text>
<text x="30.5" y="84" font-size="10.3" text-anchor="end" fill="#404040" textLength="13.89" lengthAdjust="spacingAndGlyphs">0.8</text>
<text x="30.6" y="60.1" font-size="10.3" text-anchor="end" fill="#404040" textLength="5.56" lengthAdjust="spacingAndGlyphs">1</text>
<text x="30.6" y="36.3" font-size="10.3" text-anchor="end" fill="#404040" textLength="13.89" lengthAdjust="spacingAndGlyphs">1.2</text>
<text x="30.4" y="12.4" font-size="10.3" text-anchor="end" fill="#404040" textLength="13.89" lengthAdjust="spacingAndGlyphs">1.4</text>
<text x="299.9" y="179.5" font-size="10.3" text-anchor="start" fill="#404040" textLength="5.73" lengthAdjust="spacingAndGlyphs">1</text>
<text x="299.9" y="95.9" font-size="10.3" text-anchor="start" fill="#404040" textLength="11.46" lengthAdjust="spacingAndGlyphs">10</text>
<text x="299.9" y="12.4" font-size="10.3" text-anchor="start" fill="#404040" textLength="17.19" lengthAdjust="spacingAndGlyphs">100</text>
<text x="40.4" y="197.3" font-size="11.2" text-anchor="middle" fill="#404040" textLength="6.23" lengthAdjust="spacingAndGlyphs">0</text>
<text x="102.7" y="197.3" font-size="11.2" text-anchor="middle" fill="#404040" textLength="12.46" lengthAdjust="spacingAndGlyphs">10</text>
<text x="165.1" y="197.3" font-size="11.2" text-anchor="middle" fill="#404040" textLength="12.46" lengthAdjust="spacingAndGlyphs">20</text>
<text x="227.4" y="197.3" font-size="11.2" text-anchor="middle" fill="#404040" textLength="12.46" lengthAdjust="spacingAndGlyphs">30</text>
<text x="289.8" y="197.3" font-size="11.2" text-anchor="middle" fill="#404040" textLength="12.46" lengthAdjust="spacingAndGlyphs">40</text>
<text x="11.6" y="161.9" font-size="11.77" font-weight="normal" fill="#404040" textLength="120.84" lengthAdjust="spacingAndGlyphs" transform="rotate(-90 11.6 161.9)">Na, B, Al, K norm. conc.</text>
<text x="328.7" y="143" font-size="11.34" font-weight="normal" fill="#404040" textLength="72.43" lengthAdjust="spacingAndGlyphs" transform="rotate(-90 328.7 143)">H norm. conc.</text>
<text x="142.2" y="211.1" font-size="9.16" font-weight="normal" fill="#404040" textLength="45.59" lengthAdjust="spacingAndGlyphs">Depth (nm)</text>
<text x="203.7" y="100.8" font-size="10.17" font-weight="bold" fill="#3c3c3c" textLength="68.14" lengthAdjust="spacingAndGlyphs">Unaltered glass</text>
<text x="1.5" y="17.1" font-size="13.89" font-weight="bold" fill="#000" textLength="6.55" lengthAdjust="spacingAndGlyphs">a</text>
<path d="M391 174.1h0M394.1 174.2h0M397.2 174.2h0M400.4 174.3h0M403.5 174.3h0M406.6 173.9h0M409.7 174.2h0M412.8 174.2h0M415.9 174.2h0M419.1 174h0M422.2 174.3h0M425.3 174.5h0M428.4 174.2h0M431.5 174.1h0M434.7 174.3h0M437.8 174.2h0M440.9 174.2h0M444 174.2h0M449.1 172.1h0M452.3 171h0M455.4 168.6h0M458.6 160.6h0M461.8 154.6h0M465 132.3h0M468.4 96.7h0M471.5 87.6h0M474.7 76.1h0M477.6 65.1h0M481 74.2h0M484.5 104.6h0M487.9 126.7h0M491.1 142.6h0M494.2 157.5h0M497.4 166h0M500.6 170.5h0M503.8 172.1h0M507 172.5h0M510.1 172.6h0M513.3 172.5h0M516.4 172.2h0M519.6 172.8h0M522.7 172.7h0M525.8 172.6h0M529 172.9h0M532.1 172.6h0M535.3 172.8h0M538.4 172.8h0M541.5 172.5h0M544.7 172.4h0M547.8 172.7h0M551 172.6h0M554.1 172.8h0M557.2 172.3h0M560.4 172.6h0M563.5 172.6h0M566.7 172.7h0M569.8 172.6h0M572.9 172.7h0M576.1 172.1h0M579.2 172.5h0M582.4 172.5h0M585.5 172.3h0M588.6 172.6h0M591.8 172.5h0M594.9 172.4h0M598.1 172.3h0M601.2 172.7h0M604.3 172.1h0M607.5 172.6h0M610.6 172.4h0M613.8 172.6h0M616.9 173h0M620 172.8h0M623.2 172.6h0M626.3 172.9h0M629.5 173h0M632.6 172.8h0" stroke="#12a24f" stroke-width="3.2" stroke-linecap="round" fill="none"/>
<path d="M391 173.6h0M394.1 173.4h0M397.2 173.6h0M400.4 173h0M403.5 173.1h0M406.6 173.6h0M409.7 173.5h0M412.8 173.6h0M415.9 173.5h0M419.1 173.6h0M422.2 173.6h0M425.3 173.5h0M428.4 173.6h0M431.5 173.4h0M434.7 173.8h0M437.8 173.3h0M440.9 173.4h0M444 173.7h0M447.1 173.4h0M450.3 173.7h0M453.4 173.8h0M456.5 173.7h0M459.6 173.4h0M462.7 173.9h0M465.9 173.6h0M469 173.3h0M474.7 172.1h0M477.9 171h0M481.1 167.3h0M484.5 161h0M487.7 151.1h0M491.1 132.8h0M494.2 109.1h0M497.4 89h0M500.5 72.8h0M503.7 69.5h0M507.2 66h0M510.3 64.1h0M513.8 67.9h0M517 66.2h0M520.1 65h0M523.2 68.6h0M526.3 65.6h0M529.5 66.3h0M532.6 66.8h0M535.8 64.5h0M538.9 66.8h0M542 63.4h0M545.2 63.8h0M548.3 64.7h0M551.5 68.8h0M554.6 66.3h0M557.7 67.2h0M560.9 64.7h0M564 66.2h0M567.2 62h0M570.3 65h0M573.4 66.1h0M576.6 64.5h0M579.7 62.2h0M582.9 62.8h0M586 66.4h0M589.1 67.5h0M592.3 64.8h0M595.4 67.9h0M598.6 63.3h0M601.7 66.4h0M604.8 65.8h0M608 67h0M611.1 62.9h0M614.3 67h0M617.4 65.5h0M620.5 64h0M623.7 64.6h0M626.8 65h0M630 65.8h0M633.1 64h0" stroke="#c85a18" stroke-width="3.3" stroke-linecap="round" fill="none"/>
<path d="M393.7 102.2h0M396.6 79.6h0M400.2 72.7h0M403.6 69.7h0M406.7 68h0M409.9 60h0M413.5 66.5h0M416.6 64.4h0M419.8 67h0M423 65.5h0M426.1 63.8h0M429.3 64.2h0M432.5 67.4h0M435.6 62.7h0M438.8 65.9h0M442.1 64.8h0M445.6 68.8h0M448.7 59.6h0M451.9 60.3h0M455.2 61h0M458.5 61.6h0M461.8 63.8h0M465 62.3h0M468.1 60.3h0M471.2 61h0M474.7 60.3h0M478 58.4h0M481.2 56.5h0M484.7 58.4h0M487.5 58.1h0M491 52.8h0M493.8 60.4h0M497 61.3h0M500.5 63.4h0M504 64.1h0M507.2 58.1h0M510.3 63.4h0M514.2 64.8h0M517 64.1h0M520.1 66.2h0M523.2 64.5h0M526.3 68h0M529.5 68.5h0M532.6 63h0M535.8 66.8h0M538.9 64.8h0M542 70.7h0M545.2 63.8h0M548.3 63h0M551.5 62.2h0M554.6 67h0M557.7 61.9h0M560.9 66.3h0M564 63.3h0M567.2 68.1h0M570.3 68.7h0M573.4 67.6h0M576.6 59.6h0M579.7 60.9h0M582.9 57.6h0M586 71.4h0M589.1 63.1h0M592.3 63.6h0M595.4 64.7h0M598.6 66.2h0M601.7 63.8h0M604.8 64.8h0M608 64.6h0M611.1 61.2h0M614.3 69.3h0M617.4 69.1h0M620.5 64.7h0M623.7 64.3h0M626.8 69.5h0M630 71h0M633.1 64.8h0" stroke="#a6a6a6" stroke-width="3.6" stroke-linecap="round" fill="none"/>
<path d="M391 174.7h0M394.1 174.3h0M397.2 174.4h0M400.4 174.3h0M403.5 174.2h0M406.6 174.3h0M409.7 174.1h0M412.8 174.3h0M415.9 174.8h0M419.1 174.4h0M422.2 174.3h0M425.3 174.7h0M428.4 174.6h0M431.5 174.1h0M434.7 174.2h0M437.8 174.7h0M440.9 174.3h0M444 174.3h0M447.1 174.2h0M450.3 174.1h0M453.4 174.5h0M456.5 174.1h0M459.6 174.4h0M462 172.9h0M465.2 171.3h0M468.3 167h0M471.5 164.9h0M474.7 159h0M477.7 146.6h0M481.1 126.7h0M484.6 123h0M487.9 115.6h0M490.9 76.3h0M494.2 90.1h0M497.4 67.4h0M500.5 82h0M503.7 80.6h0M507.2 43.5h0M510.3 72.8h0M513.8 62.3h0M517 68.3h0M520.1 78.2h0M523.2 59.5h0M526.5 57.4h0M529.6 72.3h0M532.8 76.3h0M536.1 72.6h0M539.3 47.8h0M542.4 68.3h0M545.7 77.2h0M549.2 46.9h0M552.4 51.6h0M555.6 49.9h0M558.9 63h0M562 73.7h0M565.2 77.5h0M568.5 57.7h0M571.8 57.4h0M575 57.4h0M578.1 54.2h0M581.3 72.3h0M584.4 76.1h0M587.8 39.4h0M591.3 63h0M594.4 68.3h0M597.6 80.2h0M600.7 38.5h0M604.1 63.9h0M607.2 69.3h0M610.4 77h0M613.9 78.9h0M617 68.3h0M620.2 46.5h0M623.7 65.3h0M626.8 76.3h0M630 63.9h0M633.3 62.7h0" stroke="#2f74b5" stroke-width="3.3" stroke-linecap="round" fill="none"/>
<path d="M390.8 61.3h5.2M393.4 58.7v5.2M394 58.9h5.2M396.6 56.3v5.2M397.6 56h5.2M400.2 53.4v5.2M401 50.1h5.2M403.6 47.5v5.2M404.1 44.8h5.2M406.7 42.2v5.2M407.3 42.1h5.2M409.9 39.5v5.2M410.9 36.4h5.2M413.5 33.8v5.2M414 35.7h5.2M416.6 33.1v5.2M417.2 33.2h5.2M419.8 30.6v5.2M420.4 32.2h5.2M423 29.6v5.2M423.5 30h5.2M426.1 27.4v5.2M426.7 27.3h5.2M429.3 24.7v5.2M429.9 26.9h5.2M432.5 24.3v5.2M433 30h5.2M435.6 27.4v5.2M436.2 30h5.2M438.8 27.4v5.2M439.4 29.6h5.2M442 27v5.2M442.5 30.5h5.2M445.1 27.9v5.2M445.7 31.1h5.2M448.3 28.5v5.2M448.9 32.2h5.2M451.5 29.6v5.2M453.1 34.9h5.2M455.7 32.3v5.2M456.2 35.7h5.2M458.8 33.1v5.2M459.4 38.5h5.2M462 35.9v5.2M462.6 42.7h5.2M465.2 40.1v5.2M465.7 49h5.2M468.3 46.4v5.2M468.9 51.1h5.2M471.5 48.5v5.2M472.1 54.9h5.2M474.7 52.3v5.2M481.6 75.4h5.2M484.2 72.8v5.2M484.9 80.7h5.2M487.5 78.1v5.2M488.3 97.1h5.2M490.9 94.5v5.2M491.6 101.3h5.2M494.2 98.7v5.2M494.8 125.4h5.2M497.4 122.8v5.2M498 133.9h5.2M500.6 131.3v5.2M501.2 150.1h5.2M503.8 147.5v5.2M504.6 169.2h5.2M507.2 166.6v5.2M508 161.5h5.2M510.6 158.9v5.2M511.2 172.9h5.2M513.8 170.3v5.2M514.4 172.5h5.2M517 169.9v5.2M517.6 172.8h5.2M520.2 170.2v5.2M520.5 170.3h5.2M523.1 167.7v5.2M523.7 172.9h5.2M526.3 170.3v5.2M527.4 166.6h5.2M530 164v5.2M530.4 172.7h5.2M533 170.1v5.2M533.6 172.6h5.2M536.2 170v5.2M536.8 172.9h5.2M539.4 170.3v5.2M539.9 172.7h5.2M542.5 170.1v5.2M543 166h5.2M545.6 163.4v5.2M546.2 172.9h5.2M548.8 170.3v5.2M549.4 172.6h5.2M552 170v5.2M552.5 172.8h5.2M555.1 170.2v5.2M555.7 172.5h5.2M558.3 169.9v5.2M559.4 167.2h5.2M562 164.6v5.2M562 172.8h5.2M564.6 170.2v5.2M565.2 172.7h5.2M567.8 170.1v5.2M568.3 172.8h5.2M570.9 170.2v5.2M571.5 172.6h5.2M574.1 170v5.2M574.6 172.9h5.2M577.2 170.3v5.2M577.8 172.7h5.2M580.4 170.1v5.2M580.9 172.6h5.2M583.5 170v5.2M584.1 172.9h5.2M586.7 170.3v5.2M587.2 172.7h5.2M589.8 170.1v5.2M590.4 172.8h5.2M593 170.2v5.2M594.9 168.6h5.2M597.5 166v5.2M596.7 172.8h5.2M599.3 170.2v5.2M599.8 172.7h5.2M602.4 170.1v5.2M603 172.9h5.2M605.6 170.3v5.2M606.1 172.6h5.2M608.7 170v5.2M607.8 166h5.2M610.4 163.4v5.2M612.3 172.8h5.2M614.9 170.2v5.2M615.4 172.7h5.2M618 170.1v5.2M618.6 172.8h5.2M621.2 170.2v5.2M621.7 172.6h5.2M624.3 170v5.2M624.9 172.9h5.2M627.5 170.3v5.2M628 172.7h5.2M630.6 170.1v5.2M631.2 172.8h5.2M633.8 170.2v5.2" stroke="#4a4a4a" stroke-width="0.7" fill="none"/>
<line x1="480.5" y1="34" x2="480.5" y2="174.6" stroke="#2a2a2a" stroke-width="1.2" stroke-dasharray="3.3 2.3"/>
<text x="381.2" y="178.3" font-size="10.3" text-anchor="end" fill="#404040" textLength="5.56" lengthAdjust="spacingAndGlyphs">0</text>
<text x="381.3" y="156.4" font-size="10.3" text-anchor="end" fill="#404040" textLength="13.89" lengthAdjust="spacingAndGlyphs">0.2</text>
<text x="381.1" y="134.6" font-size="10.3" text-anchor="end" fill="#404040" textLength="13.89" lengthAdjust="spacingAndGlyphs">0.4</text>
<text x="381.2" y="112.7" font-size="10.3" text-anchor="end" fill="#404040" textLength="13.89" lengthAdjust="spacingAndGlyphs">0.6</text>
<text x="381.2" y="90.9" font-size="10.3" text-anchor="end" fill="#404040" textLength="13.89" lengthAdjust="spacingAndGlyphs">0.8</text>
<text x="381.3" y="69" font-size="10.3" text-anchor="end" fill="#404040" textLength="5.56" lengthAdjust="spacingAndGlyphs">1</text>
<text x="381.3" y="47.2" font-size="10.3" text-anchor="end" fill="#404040" textLength="13.89" lengthAdjust="spacingAndGlyphs">1.2</text>
<text x="381.1" y="25.3" font-size="10.3" text-anchor="end" fill="#404040" textLength="13.89" lengthAdjust="spacingAndGlyphs">1.4</text>
<text x="650.2" y="178.3" font-size="10.3" text-anchor="start" fill="#404040" textLength="5.73" lengthAdjust="spacingAndGlyphs">1</text>
<text x="650.2" y="96.2" font-size="10.3" text-anchor="start" fill="#404040" textLength="11.46" lengthAdjust="spacingAndGlyphs">10</text>
<text x="650.2" y="14.2" font-size="10.3" text-anchor="start" fill="#404040" textLength="17.19" lengthAdjust="spacingAndGlyphs">100</text>
<text x="390.7" y="195.7" font-size="11" text-anchor="middle" fill="#404040" textLength="6.00" lengthAdjust="spacingAndGlyphs">0</text>
<text x="421.9" y="195.7" font-size="11" text-anchor="middle" fill="#404040" textLength="11.99" lengthAdjust="spacingAndGlyphs">50</text>
<text x="453.1" y="195.7" font-size="11" text-anchor="middle" fill="#404040" textLength="17.99" lengthAdjust="spacingAndGlyphs">100</text>
<text x="484.4" y="195.7" font-size="11" text-anchor="middle" fill="#404040" textLength="17.99" lengthAdjust="spacingAndGlyphs">150</text>
<text x="515.6" y="195.7" font-size="11" text-anchor="middle" fill="#404040" textLength="17.99" lengthAdjust="spacingAndGlyphs">200</text>
<text x="546.8" y="195.7" font-size="11" text-anchor="middle" fill="#404040" textLength="17.99" lengthAdjust="spacingAndGlyphs">250</text>
<text x="578" y="195.7" font-size="11" text-anchor="middle" fill="#404040" textLength="17.99" lengthAdjust="spacingAndGlyphs">300</text>
<text x="609.2" y="195.7" font-size="11" text-anchor="middle" fill="#404040" textLength="17.99" lengthAdjust="spacingAndGlyphs">350</text>
<text x="640.5" y="195.7" font-size="11" text-anchor="middle" fill="#404040" textLength="17.99" lengthAdjust="spacingAndGlyphs">400</text>
<text x="359.6" y="170.2" font-size="11.92" font-weight="normal" fill="#404040" textLength="121.45" lengthAdjust="spacingAndGlyphs" transform="rotate(-90 359.6 170.2)">Na, B, Al, K norm. conc.</text>
<text x="681.4" y="158.3" font-size="12.21" font-weight="normal" fill="#404040" textLength="73.76" lengthAdjust="spacingAndGlyphs" transform="rotate(-90 681.4 158.3)">H norm. conc.</text>
<text x="492.9" y="209.6" font-size="9.30" font-weight="normal" fill="#404040" textLength="45.08" lengthAdjust="spacingAndGlyphs">Depth (nm)</text>
<text x="550.8" y="114" font-size="10.17" font-weight="bold" fill="#3c3c3c" textLength="68.64" lengthAdjust="spacingAndGlyphs">Unaltered glass</text>
<text x="352.2" y="19" font-size="13.10" font-weight="bold" fill="#000" textLength="7.86" lengthAdjust="spacingAndGlyphs">b</text>
<path d="M39.8 386h0M40.7 386.4h0M41.6 386.2h0M42.5 386.1h0M43.4 386.3h0M44.4 386.5h0M45.3 386.7h0M46.2 386.4h0M47.1 386.6h0M48 386.5h0M48.9 386.5h0M49.8 386.6h0M50.7 386h0M51.7 386.2h0M52.6 386.7h0M53.5 386h0M54.4 386.1h0M55.3 386.8h0M56.2 386.1h0M57.1 386.3h0M58 386.4h0M59 386.2h0M59.9 386.5h0M60.8 386.5h0M61.7 386.1h0M62.6 386.7h0M63.5 386.1h0M64.4 386.2h0M65.3 386.2h0M66.3 386.3h0M67.2 386h0M68.1 386.3h0M69 385.7h0M69.9 386.1h0M70.8 386h0M71.7 386.1h0M72.6 386.2h0M73.6 386.3h0M74.5 386h0M75.4 386.2h0M76.3 385.8h0M77.2 386.1h0M78.1 386.4h0M79 386h0M79.9 386.1h0M80.9 386.2h0M81.8 386.4h0M82.7 386.2h0M83.6 386.1h0M84.5 385.9h0M85.4 386.2h0M86.3 385.4h0M87.2 386.2h0M88.2 385.9h0M89.1 386.3h0M90 386.1h0M90.9 386.4h0M91.8 385.9h0M92.7 385.6h0M93.6 386.1h0M94.5 385.9h0M95.5 386h0M96.4 386.3h0M97.3 385.8h0M98.2 386.2h0M99.1 386.2h0M100 386.3h0M100.9 385.5h0M101.8 386h0M102.8 385.7h0M103.7 385.8h0M104.6 385.6h0M105.5 385.6h0M106.4 385.9h0M107.3 386h0M108.2 385.6h0M109.1 385h0M110.1 385.8h0M111 384.4h0M111.9 384.5h0M112.8 384.8h0M113.7 383.5h0M114.6 383.7h0M115.5 382.7h0M116.4 381.8h0M117.4 381.9h0M118.3 380.9h0M119.2 381.4h0M120.1 380.8h0M121 379.9h0M121.9 377.8h0M122.8 378.4h0M123.7 376.6h0M124.7 375.6h0M125.6 374.2h0M126.5 372.6h0M127.4 371.5h0M128.3 370.5h0M129.2 369.3h0M130.1 367.2h0M131 365.2h0M132 363.1h0M132.9 361.3h0M133.8 360.3h0M134.7 357.9h0M135.6 355.7h0M136.5 352.6h0M137.4 350.4h0M138.3 349.4h0M139.3 347.2h0M140.2 345.3h0M141.1 342.8h0M142 340.4h0M142.9 338h0M143.8 336.6h0M144.7 334.1h0M145.6 333.6h0M146.6 331.9h0M147.5 330.4h0M148.4 326.9h0M149.3 325h0M150.2 324.4h0M151.1 321.8h0M152 315.9h0M152.9 315.8h0M153.9 315h0M154.8 312.1h0M155.7 311.2h0M156.6 308.6h0M157.5 305.6h0M158.4 305.3h0M159.3 302.9h0M160.2 303.4h0M161.2 297.9h0M162.1 298.3h0M163 296h0M163.9 295.2h0M164.8 294.8h0M165.7 293.8h0M166.6 288h0M167.5 292h0M168.5 289.7h0M169.4 288.6h0M170.3 286.8h0M171.2 287.1h0M172.1 285.3h0M173 280.8h0M173.9 281.8h0M174.8 281.7h0M175.8 280.9h0M176.7 280.3h0M177.6 281.4h0M178.5 278.2h0M179.4 278.4h0M180.3 277.6h0M181.2 278.7h0M182.1 279.1h0M183.1 276.6h0M184 278.2h0M184.9 276.4h0M185.8 279.1h0M186.7 272.9h0M187.6 276.1h0M188.5 277.6h0M189.4 274.8h0M190.4 273.4h0M191.3 273.5h0M192.2 275.7h0M193.1 273.8h0M194 276.2h0M194.9 274.5h0M195.8 273.4h0M196.7 273.5h0M197.7 274.8h0M198.6 275.6h0M199.5 272.7h0M200.4 272h0M201.3 272h0M202.2 274.6h0M203.1 276.8h0M204 273h0M205 274.9h0M205.9 273.2h0M206.8 275.3h0M207.7 271.4h0M208.6 274.7h0M209.5 271.6h0M210.4 272.4h0M211.3 274.2h0M212.3 273.3h0M213.2 273.6h0M214.1 274.5h0M215 274h0M215.9 276h0M216.8 274.9h0M217.7 272.3h0M218.6 273.5h0M219.6 272.7h0M220.5 273h0M221.4 276.4h0M222.3 272.3h0M223.2 275.6h0M224.1 276h0M225 277.9h0M225.9 273.6h0M226.9 273.9h0M227.8 274h0M228.7 272.9h0M229.6 276.3h0M230.5 276.6h0M231.4 269.8h0M232.3 272.9h0M233.2 275.3h0M234.2 271.7h0M235.1 272.3h0M236 273.4h0M236.9 273.3h0M237.8 273h0M238.7 273h0M239.6 276.2h0M240.5 269.5h0M241.5 272.4h0M242.4 271.3h0M243.3 273.5h0M244.2 272.4h0M245.1 273.9h0M246 273.1h0M246.9 276.8h0M247.8 270.9h0M248.8 272.2h0M249.7 274.4h0M250.6 272.3h0M251.5 273.2h0M252.4 270.4h0M253.3 274h0M254.2 272.6h0M255.1 273.7h0M256.1 271.3h0M257 271.9h0M257.9 271.3h0M258.8 275.4h0M259.7 269.8h0M260.6 273.3h0M261.5 273h0M262.4 274.6h0M263.4 273h0M264.3 270.9h0M265.2 273.3h0M266.1 269.7h0M267 274.1h0" stroke="#c85a18" stroke-width="3" stroke-linecap="round" fill="none"/>
<path d="M39.8 379.7h0M40.6 374.4h0M41.4 370.8h0M42.2 369.4h0M43.1 367h0M43.9 363.7h0M44.7 362.6h0M45.5 359.2h0M46.3 357.1h0M47.1 357h0M47.9 354.4h0M48.8 354.4h0M49.6 353.7h0M50.4 352.8h0M51.2 353.4h0M52 348.9h0M52.8 348h0M53.6 346.4h0M54.5 344.2h0M55.3 346h0M56.1 341.3h0M56.9 340.2h0M57.7 338.6h0M58.5 339.8h0M59.3 334.9h0M60.2 332.5h0M61 332.9h0M61.8 329h0M62.6 325.5h0M63.4 327.7h0M64.2 326h0M65 321.8h0M65.9 320.1h0M66.7 319.4h0M67.5 316.4h0M68.3 314h0M69.1 312.7h0M69.9 314.6h0M70.7 312.4h0M71.6 308.6h0M72.4 308.2h0M73.2 307.1h0M74 305.1h0M74.8 303.8h0M75.6 304.2h0M76.4 299.9h0M77.3 298.1h0M78.1 297.3h0M78.9 295.1h0M79.7 293.8h0M80.5 292.3h0M81.3 290.1h0M82.1 291.2h0M83 287.8h0M83.8 288.8h0M84.6 285.3h0M85.4 284.3h0M86.2 284.7h0M87 283.3h0M87.8 283.7h0M88.7 282.7h0M89.5 283.8h0M90.3 277h0M91.1 278.3h0M91.9 278.6h0M92.7 277.6h0M93.5 277h0M94.4 279.3h0M95.2 273.1h0M96 275.9h0M96.8 274.3h0M97.6 274.1h0M98.4 274.8h0M99.2 273h0M100.1 274.5h0M100.9 275.3h0M101.7 274.6h0M102.5 266.5h0M103.3 269h0M104.1 266.8h0M104.9 267.6h0M105.8 268.5h0M106.6 273.7h0M107.4 266.5h0M108.2 266.9h0M109 266.8h0M109.8 270.5h0M110.6 265.1h0M111.5 267.3h0M112.3 267.9h0M113.1 267h0M113.9 260.4h0M114.7 261.9h0M115.5 266.7h0M116.3 260.4h0M117.2 264.1h0M118 260.8h0M118.8 265.4h0M119.6 264.2h0M120.4 260.3h0M121.2 263.5h0M122 261.4h0M122.9 262.6h0M123.7 267h0M124.5 264.6h0M125.3 264.7h0M126.1 267.6h0M126.9 264h0M127.7 267h0M128.6 264.7h0M129.4 264.4h0M130.2 262.8h0M131 261.7h0M131.8 261.2h0M132.6 261.6h0M133.4 265.2h0M134.3 265.1h0M135.1 262.1h0M135.9 267.3h0M136.7 262.9h0M137.5 263.6h0M138.3 261.3h0M139.1 262.8h0M140 267.1h0M140.8 266.1h0M141.6 263.5h0M142.4 268.2h0M143.2 265.1h0M144 265.6h0M144.8 268h0M145.7 266.7h0M146.5 264.8h0M147.3 263.1h0M148.1 268.9h0M148.9 260h0M149.7 264.3h0M150.5 261.6h0M151.4 264.5h0M152.2 268h0M153 265.2h0M153.8 265h0M154.6 266h0M155.4 270.9h0M156.3 269.5h0M157.1 266.7h0M157.9 264.7h0M158.7 265.3h0M159.5 267.1h0M160.3 265.6h0M161.1 266h0M162 263.6h0M162.8 262.7h0M163.6 263.5h0M164.4 267h0M165.2 264h0M166 273.1h0M166.8 267.9h0M167.7 268.2h0M168.5 269.1h0M169.3 263.8h0M170.1 263.5h0M170.9 266h0M171.7 268.2h0M172.5 268.1h0M173.4 271h0M174.2 270.4h0M175 269.5h0M175.8 269.8h0M176.6 267.6h0M177.4 269.2h0M178.2 266.2h0M179.1 265.9h0M179.9 269.5h0M180.7 262.8h0M181.5 270.9h0M182.3 272.1h0M183.1 266.1h0M183.9 269.4h0M184.8 268h0M185.6 265.1h0M186.4 268.7h0M187.2 269.2h0M188 270.6h0M188.8 267.2h0M189.6 268.5h0M190.5 266.6h0M191.3 271h0M192.1 268.2h0M192.9 270.8h0M193.7 266.9h0M194.5 269h0M195.3 266.5h0M196.2 266.9h0M197 271.9h0M197.8 268.6h0M198.6 268.9h0M199.4 271.1h0M200.2 267.1h0M201 274.3h0M201.9 267.3h0M202.7 268.3h0M203.5 275.1h0M204.3 264.9h0M205.1 274.1h0M205.9 270.5h0M206.7 270.9h0M207.6 266.8h0M208.4 270h0M209.2 266.3h0M210 272.2h0M210.8 269h0M211.6 268h0M212.4 268.4h0M213.3 269.3h0M214.1 272.3h0M214.9 270.7h0M215.7 267.8h0M216.5 267.5h0M217.3 267.1h0M218.1 271.9h0M219 271.1h0M219.8 267h0M220.6 265.6h0M221.4 269.8h0M222.2 268.4h0M223 271.3h0M223.8 269.6h0M224.7 271h0M225.5 272.1h0M226.3 272.7h0M227.1 269.5h0M227.9 271.9h0M228.7 268.5h0M229.5 266.9h0M230.4 270.7h0M231.2 273.2h0M232 273.8h0M232.8 269.9h0M233.6 265.6h0M234.4 271h0M235.2 269.6h0M236.1 271.8h0M236.9 273h0M237.7 269h0M238.5 268.3h0M239.3 269.2h0M240.1 268.4h0M240.9 267.6h0M241.8 270.8h0M242.6 268.3h0M243.4 269.5h0M244.2 269.4h0M245 268.7h0M245.8 271.8h0M246.6 269.1h0M247.5 270.1h0M248.3 272.4h0M249.1 269.9h0M249.9 266.5h0M250.7 269.1h0M251.5 269.1h0M252.3 272h0M253.2 274.7h0M254 270.9h0M254.8 270h0M255.6 274.2h0M256.4 268.6h0M257.2 271.2h0M258 271.6h0M258.9 270.3h0M259.7 269.9h0M260.5 270.9h0M261.3 274.3h0M262.1 271.9h0M262.9 268.9h0M263.7 271.2h0M264.6 272.9h0M265.4 275h0M266.2 272.5h0M267 270.9h0M40.5 379.5h0M40.8 377.5h0" stroke="#a6a6a6" stroke-width="3.8" stroke-linecap="round" fill="none"/>
<path d="M39.8 388.3h0M40.7 388.4h0M41.6 388.1h0M42.5 388.3h0M43.4 388.3h0M44.4 388.1h0M45.3 388.4h0M46.2 388.6h0M47.1 388.5h0M48 388.3h0M48.9 388.2h0M49.8 388.4h0M50.7 388.1h0M51.7 388.1h0M52.6 388.6h0M53.5 388.2h0M54.4 387.9h0M55.3 388.5h0M56.2 388.4h0M57.1 388.5h0M58 388.2h0M59 388.5h0M59.9 388.2h0M60.8 388h0M61.7 388.2h0M62.6 388.3h0M63.5 388h0M64.4 388.2h0M65.3 388.3h0M66.3 388.1h0M67.2 388.3h0M68.1 388.2h0M69 388h0M69.9 388.3h0M70.8 388.4h0M71.7 387.7h0M72.6 388.1h0M73.6 388.4h0M74.5 388.3h0M75.4 387.8h0M76.3 388.3h0M77.2 388.6h0M78.1 388.4h0M79 388.4h0M79.9 388.2h0M80.9 388.2h0M81.8 387.9h0M82.7 388.2h0M83.6 388.8h0M84.5 388.2h0M85.4 388h0M86.3 388.3h0M87.2 387.7h0M88.2 388.8h0M89.1 388.3h0M90 388.1h0M90.9 388.1h0M91.8 387.9h0M92.7 388.2h0M93.6 388.2h0M94.5 387.8h0M95.5 388.4h0M96.4 388.1h0M97.3 387.9h0M98.2 388.4h0M99.1 388.3h0M100 388h0M100.9 388h0M101.8 388.4h0M102.8 388h0M103.7 388.1h0M104.6 388.4h0M105.5 387.8h0M106.4 387.7h0M107.3 387.9h0M108.2 387.9h0M109.1 388.1h0M110.1 388.3h0M111 387.9h0M111.9 388.5h0M112.8 388.1h0M113.7 387.5h0M114.6 388h0M115.5 388.2h0M116.4 388.3h0M117.4 387.7h0M118.3 387.8h0M119.2 388.2h0M120.1 387.6h0M121 386.7h0M121.9 386.1h0M122.8 386.5h0M123.7 386.6h0M124.7 385.4h0M125.6 386.5h0M126.5 384.9h0M127.4 383.8h0M128.3 385h0M129.2 384.2h0M130.1 383.6h0M131 383.9h0M132 382.1h0M132.9 382.2h0M133.8 380.7h0M134.7 381.2h0M135.6 379.5h0M136.5 378.8h0M137.4 378.3h0M138.3 377.1h0M139.3 376.5h0M140.2 375.1h0M141.1 374.5h0M142 372.8h0M142.9 370.9h0M143.8 369.7h0M144.7 367.7h0M145.6 364.7h0M146.6 363.1h0M147.5 360.4h0M148.4 359.6h0M149.3 358.1h0M150.2 357.1h0M151.1 354h0M152 352.6h0M152.9 351.1h0M153.9 349h0M154.8 346h0M155.7 345.6h0M156.6 344.9h0M157.5 343.5h0M158.4 341.9h0M159.3 339.4h0M160.2 336.7h0M161.2 335.8h0M162.1 334h0M163 330.7h0M163.9 329.1h0M164.8 326.4h0M165.7 324.6h0M166.6 322h0M167.5 322.3h0M168.5 317.7h0M169.4 317.6h0M170.3 317.2h0M171.2 314.1h0M172.1 310.8h0M173 312h0M173.9 309.7h0M174.8 306.6h0M175.8 307h0M176.7 305.3h0M177.6 305.3h0M178.5 302.3h0M179.4 302h0M180.3 301.8h0M181.2 296.9h0M182.1 300.6h0M183.1 298.2h0M184 295.8h0M184.9 296.7h0M185.8 297.3h0M186.7 293.6h0M187.6 292.9h0M188.5 295h0M189.4 294.4h0M190.4 294.2h0M191.3 290.2h0M192.2 287.8h0M193.1 286.9h0M194 287.1h0M194.9 285.2h0M195.8 286.7h0M196.7 287.2h0M197.7 282.8h0M198.6 286.1h0M199.5 281.5h0M200.4 280.2h0M201.3 277.5h0M202.2 282.7h0M203.1 279.8h0M204 279.7h0M205 271.4h0M205.9 277.7h0M206.8 280.1h0M207.7 271.5h0M208.6 284.6h0M209.5 279.9h0M210.4 282h0M211.3 278h0M212.3 281.2h0M213.2 281.9h0M214.1 285.3h0M215 275h0M215.9 283.3h0M216.8 274.3h0M217.7 277.4h0M218.6 275.6h0M219.6 275.9h0M220.5 270.7h0M221.4 275.1h0M222.3 272.4h0M223.2 274.9h0M224.1 276h0M225 275.3h0M225.9 274.6h0M226.9 278.6h0M227.8 275.5h0M228.7 276.1h0M229.6 278h0M230.5 273.9h0M231.4 274.2h0M232.3 275.6h0M233.2 272.8h0M234.2 276.8h0M235.1 271.4h0M236 272.4h0M236.9 272.4h0M237.8 271.7h0M238.7 272.4h0M239.6 270.9h0M240.5 265.4h0M241.5 275.1h0M242.4 270.5h0M243.3 273.5h0M244.2 268.3h0M245.1 272.7h0M246 267.3h0M246.9 274.8h0M247.8 270.1h0M248.8 269.1h0M249.7 262.1h0M250.6 263.6h0M251.5 268.3h0M252.4 267.8h0M253.3 267.6h0M254.2 267.8h0M255.1 271.7h0M256.1 267.8h0M257 267.6h0M257.9 266.5h0M258.8 265.5h0M259.7 269.3h0M260.6 267h0M261.5 267h0M262.4 268.7h0M263.4 267.9h0M264.3 269.9h0M265.2 269.6h0M266.1 263.8h0M267 265.1h0" stroke="#6399cf" stroke-width="3.4" stroke-linecap="round" fill="none"/>
<path d="M41.7 302.8h4.6M44 300.5v4.6M42.6 301.3h4.6M44.9 299v4.6M43.6 302h4.6M45.9 299.7v4.6M44.5 293.7h4.6M46.8 291.4v4.6M45.4 297.8h4.6M47.7 295.5v4.6M46.4 298.8h4.6M48.7 296.5v4.6M47.3 297.8h4.6M49.6 295.5v4.6M48.2 293.6h4.6M50.5 291.3v4.6M49.2 302.3h4.6M51.5 300v4.6M50.1 300.1h4.6M52.4 297.8v4.6M51 294.2h4.6M53.3 291.9v4.6M52 297.9h4.6M54.3 295.6v4.6M52.9 299.1h4.6M55.2 296.8v4.6M53.8 301.4h4.6M56.1 299.1v4.6M54.8 300.5h4.6M57.1 298.2v4.6M55.7 296h4.6M58 293.7v4.6M56.6 296.8h4.6M58.9 294.5v4.6M57.6 298.9h4.6M59.9 296.6v4.6M58.5 300.7h4.6M60.8 298.4v4.6M59.4 296.8h4.6M61.7 294.5v4.6M60.4 296.2h4.6M62.7 293.9v4.6M61.3 299.2h4.6M63.6 296.9v4.6M62.2 297.9h4.6M64.5 295.6v4.6M63.2 301h4.6M65.5 298.7v4.6M64.1 298.5h4.6M66.4 296.2v4.6M65 299.8h4.6M67.3 297.5v4.6M66 292h4.6M68.3 289.7v4.6M66.9 293.5h4.6M69.2 291.2v4.6M67.8 293h4.6M70.1 290.7v4.6M68.8 295.2h4.6M71.1 292.9v4.6M69.7 297.8h4.6M72 295.5v4.6M70.6 296.1h4.6M72.9 293.8v4.6M71.6 298.1h4.6M73.9 295.8v4.6M72.5 294.8h4.6M74.8 292.5v4.6M73.4 299.2h4.6M75.7 296.9v4.6M74.4 298.9h4.6M76.7 296.6v4.6M75.3 292.1h4.6M77.6 289.8v4.6M76.2 293.8h4.6M78.5 291.5v4.6M77.2 294.9h4.6M79.5 292.6v4.6M78.1 298.6h4.6M80.4 296.3v4.6M79 298.4h4.6M81.3 296.1v4.6M80 301h4.6M82.3 298.7v4.6M80.9 292.3h4.6M83.2 290v4.6M81.8 296.7h4.6M84.1 294.4v4.6M82.8 296.1h4.6M85.1 293.8v4.6M83.7 295.3h4.6M86 293v4.6M84.6 295.6h4.6M86.9 293.3v4.6M85.6 290.6h4.6M87.9 288.3v4.6M86.5 296.7h4.6M88.8 294.4v4.6M87.4 294.9h4.6M89.7 292.6v4.6M88.4 292.7h4.6M90.7 290.4v4.6M89.3 299.6h4.6M91.6 297.3v4.6M90.2 294.1h4.6M92.5 291.8v4.6M91.2 296.5h4.6M93.5 294.2v4.6M92.1 294.1h4.6M94.4 291.8v4.6M93 291.9h4.6M95.3 289.6v4.6M94 294.7h4.6M96.3 292.4v4.6M94.9 296.8h4.6M97.2 294.5v4.6M95.8 293.3h4.6M98.1 291v4.6M96.8 297.2h4.6M99.1 294.9v4.6M97.7 300.4h4.6M100 298.1v4.6M98.6 299.1h4.6M100.9 296.8v4.6M99.5 295.2h4.6M101.8 292.9v4.6M100.5 293.9h4.6M102.8 291.6v4.6M101.4 298.5h4.6M103.7 296.2v4.6M102.3 292.5h4.6M104.6 290.2v4.6M103.3 293.5h4.6M105.6 291.2v4.6M104.2 300.8h4.6M106.5 298.5v4.6M105.1 297.3h4.6M107.4 295v4.6M106.1 297.7h4.6M108.4 295.4v4.6M107 295.8h4.6M109.3 293.5v4.6M107.9 304.1h4.6M110.2 301.8v4.6M108.9 305h4.6M111.2 302.7v4.6M109.8 296.5h4.6M112.1 294.2v4.6M110.7 299.2h4.6M113 296.9v4.6M111.7 296.5h4.6M114 294.2v4.6M112.6 298.6h4.6M114.9 296.3v4.6M113.5 301.2h4.6M115.8 298.9v4.6M114.5 301.3h4.6M116.8 299v4.6M115.4 297.6h4.6M117.7 295.3v4.6M116.3 299.7h4.6M118.6 297.4v4.6M117.3 306.6h4.6M119.6 304.3v4.6M118.2 301.5h4.6M120.5 299.2v4.6M119.1 302.9h4.6M121.4 300.6v4.6M120.1 301.8h4.6M122.4 299.5v4.6M121 301.1h4.6M123.3 298.8v4.6M121.9 299.7h4.6M124.2 297.4v4.6M122.9 300.6h4.6M125.2 298.3v4.6M123.8 299.8h4.6M126.1 297.5v4.6M124.7 301.6h4.6M127 299.3v4.6M125.7 302.7h4.6M128 300.4v4.6M126.6 306.5h4.6M128.9 304.2v4.6M127.5 302.7h4.6M129.8 300.4v4.6M128.5 307.5h4.6M130.8 305.2v4.6M129.4 303.7h4.6M131.7 301.4v4.6M130.3 313.4h4.6M132.6 311.1v4.6M131.3 308.1h4.6M133.6 305.8v4.6M132.2 310.5h4.6M134.5 308.2v4.6M133.1 314.7h4.6M135.4 312.4v4.6M134.1 312h4.6M136.4 309.7v4.6M135 313.7h4.6M137.3 311.4v4.6M135.9 315h4.6M138.2 312.7v4.6M136.9 317h4.6M139.2 314.7v4.6M137.8 316.2h4.6M140.1 313.9v4.6M138.7 321.8h4.6M141 319.5v4.6M139.7 321.8h4.6M142 319.5v4.6M140.6 321.1h4.6M142.9 318.8v4.6M141.5 324.5h4.6M143.8 322.2v4.6M142.5 323.2h4.6M144.8 320.9v4.6M143.4 323.7h4.6M145.7 321.4v4.6M144.3 325.9h4.6M146.6 323.6v4.6M145.3 328.4h4.6M147.6 326.1v4.6M146.2 325.9h4.6M148.5 323.6v4.6M147.1 329.7h4.6M149.4 327.4v4.6M148.1 332.6h4.6M150.4 330.3v4.6M149 331h4.6M151.3 328.7v4.6M149.9 335.1h4.6M152.2 332.8v4.6M150.9 333.8h4.6M153.2 331.5v4.6M151.8 337.8h4.6M154.1 335.5v4.6M152.7 338.7h4.6M155 336.4v4.6M153.7 341.1h4.6M156 338.8v4.6M154.6 340.6h4.6M156.9 338.3v4.6M155.5 339.9h4.6M157.8 337.6v4.6M156.5 340.6h4.6M158.8 338.3v4.6M157.4 355.2h4.6M159.7 352.9v4.6M158.3 347.5h4.6M160.6 345.2v4.6M159.3 350.9h4.6M161.6 348.6v4.6M160.2 351.1h4.6M162.5 348.8v4.6M161.1 358.3h4.6M163.4 356v4.6M162.1 358.3h4.6M164.4 356v4.6M163 359.6h4.6M165.3 357.3v4.6M163.9 356.7h4.6M166.2 354.4v4.6M164.9 361.9h4.6M167.2 359.6v4.6M165.8 359.3h4.6M168.1 357v4.6M166.7 364.1h4.6M169 361.8v4.6M167.7 362.4h4.6M170 360.1v4.6M168.6 357.3h4.6M170.9 355v4.6M169.5 364h4.6M171.8 361.7v4.6M170.5 362.8h4.6M172.8 360.5v4.6M171.4 372.5h4.6M173.7 370.2v4.6M172.3 363.3h4.6M174.6 361v4.6M173.3 366.8h4.6M175.6 364.5v4.6M174.2 367.6h4.6M176.5 365.3v4.6M175.1 366.9h4.6M177.4 364.6v4.6M176.1 368h4.6M178.4 365.7v4.6M177 370.5h4.6M179.3 368.2v4.6M177.9 372.4h4.6M180.2 370.1v4.6M178.9 371h4.6M181.2 368.7v4.6M179.8 372.2h4.6M182.1 369.9v4.6M180.7 373.7h4.6M183 371.4v4.6M181.7 371.8h4.6M184 369.5v4.6M182.6 374.5h4.6M184.9 372.2v4.6M183.5 375.9h4.6M185.8 373.6v4.6M184.5 379.2h4.6M186.8 376.9v4.6M185.4 378.9h4.6M187.7 376.6v4.6M186.3 379h4.6M188.6 376.7v4.6M187.3 380.7h4.6M189.6 378.4v4.6M188.2 376.8h4.6M190.5 374.5v4.6M189.1 382.5h4.6M191.4 380.2v4.6M190.1 379.1h4.6M192.4 376.8v4.6M191 380.3h4.6M193.3 378v4.6M191.9 380.1h4.6M194.2 377.8v4.6M192.9 383.5h4.6M195.2 381.2v4.6M193.8 380.4h4.6M196.1 378.1v4.6M194.7 384.1h4.6M197 381.8v4.6M195.7 382h4.6M198 379.7v4.6M196.6 381.9h4.6M198.9 379.6v4.6M197.5 384.6h4.6M199.8 382.3v4.6M198.5 381.6h4.6M200.8 379.3v4.6M199.4 387.3h4.6M201.7 385v4.6M200.3 382.5h4.6M202.6 380.2v4.6M201.3 383.4h4.6M203.6 381.1v4.6M202.2 388h4.6M204.5 385.7v4.6M203.1 381h4.6M205.4 378.7v4.6M204.1 387.4h4.6M206.4 385.1v4.6M205 385.2h4.6M207.3 382.9v4.6M205.9 385.3h4.6M208.2 383v4.6M206.9 385.6h4.6M209.2 383.3v4.6M207.8 382.7h4.6M210.1 380.4v4.6M208.7 389.6h4.6M211 387.3v4.6M209.6 386.7h4.6M211.9 384.4v4.6M210.6 387h4.6M212.9 384.7v4.6M211.5 387.5h4.6M213.8 385.2v4.6M212.4 388h4.6M214.7 385.7v4.6M213.4 386.2h4.6M215.7 383.9v4.6M214.3 383h4.6M216.6 380.7v4.6M215.2 382.1h4.6M217.5 379.8v4.6M216.2 381.9h4.6M218.5 379.6v4.6M217.1 384.4h4.6M219.4 382.1v4.6M218 388.2h4.6M220.3 385.9v4.6M219 382.2h4.6M221.3 379.9v4.6M219.9 384.7h4.6M222.2 382.4v4.6M220.8 387.3h4.6M223.1 385v4.6M221.8 384.8h4.6M224.1 382.5v4.6M222.7 385h4.6M225 382.7v4.6M223.6 382.9h4.6M225.9 380.6v4.6M224.6 386.2h4.6M226.9 383.9v4.6M225.5 384.2h4.6M227.8 381.9v4.6M226.4 384h4.6M228.7 381.7v4.6M227.4 384.8h4.6M229.7 382.5v4.6M228.3 386.8h4.6M230.6 384.5v4.6M229.2 388.5h4.6M231.5 386.2v4.6M230.2 382.9h4.6M232.5 380.6v4.6M231.1 387.2h4.6M233.4 384.9v4.6M232 383h4.6M234.3 380.7v4.6M233 381h4.6M235.3 378.7v4.6M233.9 384.2h4.6M236.2 381.9v4.6M234.8 386.2h4.6M237.1 383.9v4.6M235.8 385.9h4.6M238.1 383.6v4.6M236.7 387h4.6M239 384.7v4.6M237.6 380.7h4.6M239.9 378.4v4.6M238.6 389.8h4.6M240.9 387.5v4.6M239.5 388.3h4.6M241.8 386v4.6M240.4 387.9h4.6M242.7 385.6v4.6M241.4 381.9h4.6M243.7 379.6v4.6M242.3 387.4h4.6M244.6 385.1v4.6M243.2 384.8h4.6M245.5 382.5v4.6M244.2 384.9h4.6M246.5 382.6v4.6M245.1 386.2h4.6M247.4 383.9v4.6M246 382h4.6M248.3 379.7v4.6M247 389.1h4.6M249.3 386.8v4.6M247.9 388.9h4.6M250.2 386.6v4.6M248.8 388.4h4.6M251.1 386.1v4.6M249.8 390h4.6M252.1 387.7v4.6M250.7 381.8h4.6M253 379.5v4.6M251.6 385.5h4.6M253.9 383.2v4.6M252.6 385.4h4.6M254.9 383.1v4.6M253.5 383.1h4.6M255.8 380.8v4.6M254.4 388.5h4.6M256.7 386.2v4.6M255.4 393.1h4.6M257.7 390.8v4.6M256.3 383.6h4.6M258.6 381.3v4.6M257.2 387.9h4.6M259.5 385.6v4.6M258.2 386.6h4.6M260.5 384.3v4.6M259.1 386.8h4.6M261.4 384.5v4.6M260 386.7h4.6M262.3 384.4v4.6M261 388.2h4.6M263.3 385.9v4.6M261.9 384.8h4.6M264.2 382.5v4.6M262.8 385.4h4.6M265.1 383.1v4.6M263.8 390.8h4.6M266.1 388.5v4.6M264.7 386.5h4.6M267 384.2v4.6" stroke="#4a4a4a" stroke-width="0.7" fill="none"/>
<path d="M39.8 386.5h0M40.7 386.5h0M41.6 386.1h0M42.5 386.4h0M43.4 386h0M44.4 386.8h0M45.3 386.7h0M46.2 386h0M47.1 386.2h0M48 386h0M48.9 386.1h0M49.8 386.2h0M50.7 386h0M51.7 386.2h0M52.6 386.5h0M53.5 386.2h0M54.4 386.5h0M55.3 386.3h0M56.2 386.3h0M57.1 386h0M58 386.5h0M59 386h0M59.9 386.2h0M60.8 386h0M61.7 386.4h0M62.6 386h0M63.5 386.4h0M64.4 386.8h0M65.3 386.4h0M66.3 385.7h0M67.2 386.5h0M68.1 386.3h0M69 386.4h0M69.9 386.4h0M70.8 386.5h0M71.7 386.5h0M72.6 386.2h0M73.6 385.9h0M74.5 386.2h0M75.4 386.4h0M76.3 385.8h0M77.2 386.3h0M78.1 385.8h0M79 386.5h0M79.9 386.7h0M80.9 386.4h0M81.8 386.1h0M82.7 386.4h0M83.6 386.5h0M84.5 386.6h0M85.4 386.5h0M86.3 386.4h0M87.2 385.9h0M88.2 386.1h0M89.1 386.3h0M90 386.1h0M90.9 385.6h0M91.8 386.1h0M92.7 385.9h0M93.6 386.1h0M94.5 386.2h0M95.5 385.7h0M96.4 385.9h0M97.3 386.1h0M98.2 385.8h0M99.1 386h0M100 385.8h0M100.9 385.8h0M101.8 386.2h0M102.8 385.8h0M103.7 385.7h0M104.6 386.1h0M105.5 385.4h0M106.4 385.4h0M107.3 385.3h0M108.2 386.6h0M109.1 385.1h0M110.1 384.7h0M111 383.6h0M111.9 383.8h0M112.8 383.5h0M113.7 381.9h0M114.6 382.2h0M115.5 382.3h0M116.4 381.7h0M117.4 380.1h0M118.3 380.2h0M119.2 377.7h0M120.1 377.4h0M121 375.9h0M121.9 373.9h0M122.8 373.5h0M123.7 370.8h0M124.7 369.5h0M125.6 367.9h0M126.5 365.4h0M127.4 364.6h0M128.3 361.6h0M129.2 359h0M130.1 357.3h0M131 354.5h0M132 351.1h0M132.9 348.4h0M133.8 345.7h0M134.7 341.9h0M135.6 336.7h0M136.5 334h0M137.4 329.9h0M138.3 325.7h0M139.3 320.6h0M140.2 316h0M141.1 311.9h0M142 307.6h0M142.9 304.8h0M143.8 302.2h0M144.7 300.1h0M145.6 297.2h0M146.6 293.6h0M147.5 290h0M148.4 287.5h0M149.3 285.6h0M150.2 285.1h0M151.1 283h0M152 280.8h0M152.9 278.3h0M153.9 277.4h0M154.8 275.5h0M155.7 274.3h0M156.6 272.8h0M157.5 273.1h0M158.4 271.6h0M159.3 271.9h0M160.2 274.7h0M161.2 276.8h0M162.1 279h0M163 278.9h0M163.9 281.8h0M164.8 284h0M165.7 285.7h0M166.6 288.6h0M167.5 290.9h0M168.5 293.4h0M169.4 296h0M170.3 298.6h0M171.2 302.8h0M172.1 306.1h0M173 310.1h0M173.9 316.5h0M174.8 319.6h0M175.8 323h0M176.7 325.1h0M177.6 327.6h0M178.5 331.1h0M179.4 332.8h0M180.3 335.3h0M181.2 338.9h0M182.1 341.8h0M183.1 344h0M184 346.8h0M184.9 349.1h0M185.8 351.3h0M186.7 354h0M187.6 356.2h0M188.5 359.4h0M189.4 360.7h0M190.4 363.5h0M191.3 364.6h0M192.2 366h0M193.1 368.2h0M194 369.7h0M194.9 371.7h0M195.8 371.4h0M196.7 373.5h0M197.7 375.2h0M198.6 375.8h0M199.5 377.2h0M200.4 377.9h0M201.3 379.6h0M202.2 380.2h0M203.1 379.2h0M204 380.1h0M205 381h0M205.9 381.9h0M206.8 382.4h0M207.7 382.7h0M208.6 383.8h0M209.5 384.4h0M210.4 384.5h0M211.3 384.7h0M212.3 385.1h0M213.2 384.9h0M214.1 385.9h0M215 386.1h0M215.9 385.4h0M216.8 386.7h0M217.7 386.1h0M218.6 386.7h0M219.6 386.3h0M220.5 386.3h0M221.4 386.8h0M222.3 385.9h0M223.2 386.3h0M224.1 385.8h0M225 386.7h0M225.9 386.4h0M226.9 386.3h0M227.8 386.2h0M228.7 386.9h0M229.6 386.7h0M230.5 386.4h0M231.4 386.3h0M232.3 387.5h0M233.2 387.4h0M234.2 386h0M235.1 387.2h0M236 386.9h0M236.9 386.8h0M237.8 386.9h0M238.7 386h0M239.6 387.9h0M240.5 387.7h0M241.5 386.7h0M242.4 386.7h0M243.3 386.8h0M244.2 386.4h0M245.1 387h0M246 386.7h0M246.9 386.2h0M247.8 386.5h0M248.8 386.4h0M249.7 386.4h0M250.6 386.6h0M251.5 387.1h0M252.4 386.5h0M253.3 385.9h0M254.2 387.5h0M255.1 386.5h0M256.1 387.5h0M257 386.9h0M257.9 387h0M258.8 386.3h0M259.7 386.8h0M260.6 386.6h0M261.5 386.7h0M262.4 387h0M263.4 386.6h0M264.3 387.2h0M265.2 386.1h0M266.1 386.2h0M267 387h0" stroke="#12a24f" stroke-width="3.2" stroke-linecap="round" fill="none"/>
<path d="M37.5 234.2h4.6M39.8 231.9v4.6M76.5 237.8h4.6M78.8 235.5v4.6M37.5 264.2h4.6M39.8 261.9v4.6M73.1 273h4.6M75.4 270.7v4.6M39 279.3h4.6M41.3 277v4.6M40 284.8h4.6M42.3 282.5v4.6M76.9 284.8h4.6M79.2 282.5v4.6M40 294.7h4.6M42.3 292.4v4.6M101.6 286.3h4.6M103.9 284v4.6M110.6 271.5h4.6M112.9 269.2v4.6M241.3 356.3h4.6M243.6 354v4.6M242 376.3h4.6M244.3 374v4.6" stroke="#505050" stroke-width="0.8" fill="none"/>
<line x1="158.6" y1="247" x2="158.6" y2="388.5" stroke="#2a2a2a" stroke-width="1.2" stroke-dasharray="3.3 2.3"/>
<text x="29.6" y="391.4" font-size="10.3" text-anchor="end" fill="#404040" textLength="5.56" lengthAdjust="spacingAndGlyphs">0</text>
<text x="29.7" y="368.2" font-size="10.3" text-anchor="end" fill="#404040" textLength="13.89" lengthAdjust="spacingAndGlyphs">0.2</text>
<text x="29.5" y="345.1" font-size="10.3" text-anchor="end" fill="#404040" textLength="13.89" lengthAdjust="spacingAndGlyphs">0.4</text>
<text x="29.6" y="321.9" font-size="10.3" text-anchor="end" fill="#404040" textLength="13.89" lengthAdjust="spacingAndGlyphs">0.6</text>
<text x="29.6" y="298.8" font-size="10.3" text-anchor="end" fill="#404040" textLength="13.89" lengthAdjust="spacingAndGlyphs">0.8</text>
<text x="29.7" y="275.6" font-size="10.3" text-anchor="end" fill="#404040" textLength="5.56" lengthAdjust="spacingAndGlyphs">1</text>
<text x="29.7" y="252.5" font-size="10.3" text-anchor="end" fill="#404040" textLength="13.89" lengthAdjust="spacingAndGlyphs">1.2</text>
<text x="29.5" y="229.3" font-size="10.3" text-anchor="end" fill="#404040" textLength="13.89" lengthAdjust="spacingAndGlyphs">1.4</text>
<text x="298.8" y="391.4" font-size="10.3" text-anchor="start" fill="#404040" textLength="5.73" lengthAdjust="spacingAndGlyphs">1</text>
<text x="298.8" y="310.4" font-size="10.3" text-anchor="start" fill="#404040" textLength="11.46" lengthAdjust="spacingAndGlyphs">10</text>
<text x="298.8" y="229.3" font-size="10.3" text-anchor="start" fill="#404040" textLength="17.19" lengthAdjust="spacingAndGlyphs">100</text>
<text x="39.5" y="408.9" font-size="11.4" text-anchor="middle" fill="#404040" textLength="6.34" lengthAdjust="spacingAndGlyphs">0</text>
<text x="70.7" y="408.9" font-size="11.4" text-anchor="middle" fill="#404040" textLength="12.68" lengthAdjust="spacingAndGlyphs">10</text>
<text x="102" y="408.9" font-size="11.4" text-anchor="middle" fill="#404040" textLength="12.68" lengthAdjust="spacingAndGlyphs">20</text>
<text x="133.2" y="408.9" font-size="11.4" text-anchor="middle" fill="#404040" textLength="12.68" lengthAdjust="spacingAndGlyphs">30</text>
<text x="164.5" y="408.9" font-size="11.4" text-anchor="middle" fill="#404040" textLength="12.68" lengthAdjust="spacingAndGlyphs">40</text>
<text x="195.7" y="408.9" font-size="11.4" text-anchor="middle" fill="#404040" textLength="12.68" lengthAdjust="spacingAndGlyphs">50</text>
<text x="227" y="408.9" font-size="11.4" text-anchor="middle" fill="#404040" textLength="12.68" lengthAdjust="spacingAndGlyphs">60</text>
<text x="258.2" y="408.9" font-size="11.4" text-anchor="middle" fill="#404040" textLength="12.68" lengthAdjust="spacingAndGlyphs">70</text>
<text x="289.5" y="408.9" font-size="11.4" text-anchor="middle" fill="#404040" textLength="12.68" lengthAdjust="spacingAndGlyphs">80</text>
<text x="8.8" y="373.2" font-size="11.92" font-weight="normal" fill="#404040" textLength="121.14" lengthAdjust="spacingAndGlyphs" transform="rotate(-90 8.8 373.2)">Na, B, Al, K norm. conc.</text>
<text x="327" y="364.3" font-size="11.92" font-weight="normal" fill="#404040" textLength="72.74" lengthAdjust="spacingAndGlyphs" transform="rotate(-90 327 364.3)">H norm. conc.</text>
<text x="141.6" y="423" font-size="9.30" font-weight="normal" fill="#404040" textLength="45.08" lengthAdjust="spacingAndGlyphs">Depth (nm)</text>
<text x="207.4" y="323.2" font-size="10.76" font-weight="bold" fill="#3c3c3c" textLength="68.85" lengthAdjust="spacingAndGlyphs">Unaltered glass</text>
<text x="0.8" y="234.8" font-size="12.22" font-weight="bold" fill="#000" textLength="6.19" lengthAdjust="spacingAndGlyphs">c</text>
<path d="M393 388.7h0M394.3 388.8h0M395.6 388.7h0M396.9 389h0M398.2 388.5h0M399.5 388.6h0M400.8 388.3h0M402.1 389.3h0M403.4 388.7h0M404.7 389h0M406 389.1h0M407.3 388.8h0M408.6 388.7h0M409.9 388.6h0M411.2 388.7h0M412.5 388.2h0M413.8 388.6h0M415.1 389h0M416.4 388.8h0M417.7 389h0M419 389h0M420.3 388.9h0M421.6 388.8h0M422.9 388.8h0M424.2 389h0M425.5 388.6h0M426.8 388.3h0M428.1 389h0M429.4 388.7h0M430.7 389.1h0M432 388.5h0M433.3 388.2h0M434.6 388.7h0M435.9 388.5h0M437.2 388.4h0M438.5 389.2h0M439.8 388.8h0M441.1 388.4h0M442.4 388.2h0M443.7 388.7h0M445 388.9h0M446.3 388.8h0M447.6 389.1h0M448.9 388.8h0M450.2 388.9h0M451.5 388.1h0M452.8 389.1h0M454.1 388.5h0M455.4 389h0M456.7 388.2h0M458 388.4h0M459.3 389.1h0M460.6 388.3h0M461.9 388.8h0M463.2 388.6h0M464.5 389.2h0M465.8 388.8h0M467.1 389.1h0M468.4 388.7h0M469.7 388.2h0M471 389.3h0M472.3 388.5h0M473.6 388.7h0M474.9 388.7h0M476.2 388.2h0M477.5 388.9h0M478.8 388.6h0M480.1 388.2h0M481.4 388.2h0M482.7 388h0M484 388.4h0M485.3 388.6h0M486.6 388.4h0M487.9 388.7h0M489.2 388.6h0M490.5 388.8h0M491.8 388.7h0M493.1 388.6h0M494.4 388.4h0M495.7 388.3h0M497 388.4h0M498.3 388.8h0M499.6 388.5h0M500.9 389.1h0M502.2 388.9h0M503.5 388.2h0M504.8 388.8h0M506.1 389h0M507.4 388.4h0M508.7 389h0M510 388.4h0M511.3 389.1h0M512.6 388.8h0M513.9 388.6h0M515.2 388.1h0M516.5 388.6h0M517.8 388.4h0M519.1 388.7h0M520.4 388.3h0M521.7 388.7h0M523 388.4h0M524.3 388.7h0M525.6 388.7h0M526.9 388.4h0M528.2 388.4h0M529.5 388.5h0M530.8 387.8h0M532.1 388.2h0M533.4 388h0M534.7 388.3h0M536 387.6h0M537.3 387.8h0M538.6 386.7h0M539.9 387.3h0M541.2 386.6h0M542.5 386h0M543.8 385.3h0M545 383.7h0M546.5 382.6h0M548 379.3h0M549.5 375.5h0M551 372.8h0M552.5 366.8h0M554 356.6h0M555.5 349h0M557 336.1h0M558.5 317.9h0M560 308.4h0M561.5 296.6h0M562 293.6h0M563.6 281.8h0M565.2 275.1h0M566.8 270.7h0M568.4 269.2h0M570 272h0M571.6 268.7h0M573.2 271.7h0M574.8 269.5h0M576.4 269h0M578 268.8h0M579.6 266.8h0M581.2 268.4h0M582.8 270.3h0M584.4 270h0M586 269.1h0M587.6 269.9h0M589.2 268.9h0M590.8 269.2h0M592.4 272.2h0M594 268.2h0M595.6 264.8h0M597.2 263.8h0M598.8 265.9h0M600.4 267.4h0M602 268.7h0M603.6 267.1h0M605.2 267.5h0M606.8 268.4h0M608.4 266.1h0M610 267.9h0M611.6 268.9h0M613.2 268.2h0" stroke="#c85a18" stroke-width="3" stroke-linecap="round" fill="none"/>
<path d="M393.3 311h0M393.4 309.7h0M394.7 284.7h0M396.4 270.2h0M397.8 272.3h0M399.3 271.9h0M400.7 269h0M402.2 266.5h0M403.6 265.8h0M405.1 264.6h0M406.5 258.6h0M408 265h0M409.4 260.7h0M410.9 264.2h0M412.3 259.2h0M413.8 256.7h0M415.2 259.6h0M416.7 257.4h0M418.1 258.4h0M419.6 255h0M421 254.6h0M422.5 254.1h0M423.9 254.1h0M425.4 256.5h0M426.8 252.8h0M428.3 256h0M429.7 258h0M431.2 252.7h0M432.6 254.8h0M434.1 252.9h0M435.5 253.8h0M437 255.1h0M438.4 256.6h0M439.9 257h0M441.3 252.3h0M442.8 256.2h0M444.2 252.3h0M445.7 250.6h0M447.1 251.1h0M448.6 248.2h0M450 254.1h0M451.5 248.6h0M452.9 254.8h0M454.4 262.4h0M455.8 251.9h0M457.3 248.7h0M458.7 256.3h0M460.2 252.3h0M461.6 255.4h0M463.1 255.6h0M464.5 256.4h0M466 262.7h0M467.4 256.8h0M468.9 256.7h0M470.3 255.7h0M471.8 253.8h0M473.2 254.1h0M474.7 252.8h0M476.1 258.6h0M477.6 255.6h0M479 258h0M480.5 257h0M481.9 262.7h0M483.4 255.8h0M484.8 257.9h0M486.3 254.3h0M487.7 259.6h0M489.2 255.5h0M490.6 256.2h0M492.1 252h0M493.5 257.8h0M495 261.1h0M496.4 260.2h0M497.9 252.9h0M499.3 258.8h0M500.8 254h0M502.2 251.1h0M503.7 252.3h0M505.1 259.8h0M506.6 255.1h0M508 252.3h0M509.5 257h0M510.9 256.9h0M512.4 255h0M513.8 257.3h0M515.3 254.7h0M516.7 259.5h0M518.2 258.1h0M519.6 255.5h0M521.1 256.8h0M522.5 258.4h0M524 255.3h0M525.4 257.2h0M526.9 255.2h0M528.3 254.5h0M529.8 249.7h0M531.2 251.7h0M532.7 252.3h0M534.1 255.5h0M535.6 263.1h0M537 252.3h0M538.5 253.8h0M539.9 251.2h0M541.4 253.7h0M542.8 254h0M544.3 256.5h0M545.7 249.9h0M547.2 255.3h0M548.6 254.2h0M550.1 252.3h0M551.5 249.3h0M553 249.8h0M554.4 252.4h0M555.9 254.7h0M560 266.1h0M561.3 264.2h0M562.6 267.3h0M563.9 263.3h0M565.2 268.8h0M566.5 275.3h0M567.8 264.7h0M569.1 269.6h0M570.4 263.6h0M571.7 266.8h0M573 268.1h0M574.3 270.2h0M575.6 266.6h0M576.9 270.6h0M578.2 262.7h0M579.5 265.9h0M580.8 266.5h0M582.1 266.8h0M583.4 266.1h0M584.7 272.1h0M586 265.4h0M587.3 269.6h0M588.6 267.8h0M589.9 272.8h0M591.2 265.9h0M592.5 268.8h0M593.8 268.3h0M595.1 256.9h0M596.4 267.8h0M597.7 269.8h0M599 271.3h0M600.3 263.4h0M601.6 266.1h0M602.9 270.4h0M604.2 263.3h0M605.5 264.2h0M606.8 268.5h0M608.1 268.8h0M609.4 270.7h0M610.7 270.1h0M612 267.3h0M613.3 263.6h0M614.6 264.8h0M561 258h0M563.1 261.1h0M558.5 257h0" stroke="#a6a6a6" stroke-width="3.4" stroke-linecap="round" fill="none"/>
<path d="M393 389.7h0M394 390.2h0M395 390.4h0M396 390h0M397 389.2h0M398 389.7h0M399 389.9h0M400 390.2h0M401 389.8h0M402 389.9h0M403 390.4h0M404 390.5h0M405 390h0M406 389.6h0M407 389.6h0M408 390.2h0M409 389.7h0M410 390h0M411 389.9h0M412 390h0M413 390.1h0M414 389.6h0M415 389.8h0M416 390.1h0M417 390h0M418 389.5h0M419 390.7h0M420 389.5h0M421 390.4h0M422 389.4h0M423 390.3h0M424 389.4h0M425 390.3h0M426 390h0M427 390.3h0M428 389.7h0M429 390.1h0M430 390.1h0M431 390h0M432 389.8h0M433 390.4h0M434 389.3h0M435 389.4h0M436 389.4h0M437 390.5h0M438 389.7h0M439 389.7h0M440 389.7h0M441 389.8h0M442 389.9h0M443 389.8h0M444 389.4h0M445 390.1h0M446 389.9h0M447 390.5h0M448 390.1h0M449 389.9h0M450 389.4h0M451 390h0M452 390.2h0M453 390.5h0M454 390.1h0M455 390.2h0M456 390.1h0M457 390.5h0M458 390.3h0M459 389.9h0M460 389.4h0M461 390.5h0M462 390h0M463 389.6h0M464 389.4h0M465 389.3h0M466 390h0M467 389.9h0M468 390h0M469 390.3h0M470 389.7h0M471 390h0M472 389.7h0M473 389.6h0M474 389.1h0M475 389.6h0M476 390.3h0M477 389.7h0M478 390h0M479 389.9h0M480 390.6h0M481 390.4h0M482 389.6h0M483 389.7h0M484 390.3h0M485 389.9h0M486 389.9h0M487 390.3h0M488 390.1h0M489 389.9h0M490 390.9h0M491 390h0M492 389.4h0M493 390h0M494 389.9h0M495 390.4h0M496 389.9h0M497 389.6h0M498 389.9h0M499 389.4h0M500 389.7h0M501 389.9h0M502 389.5h0M503 389.1h0M504 389.4h0M505 389.5h0M506 389.9h0M507 389.5h0M508 389.6h0M509 389.3h0M510 389.6h0M511 389.3h0M512 389.7h0M513 389.5h0M514 389.9h0M515 389.6h0M516 389.2h0M517 389h0M518 389.3h0M519 389.4h0M520 389.6h0M521 388.8h0M522 388.5h0M523 388.2h0M524 388.4h0M525 388.5h0M526 388.3h0M527 388.1h0M528 388h0M529 387.9h0M530 387h0M531 387.4h0M532 387.1h0M533 386.8h0M534 386.5h0M535 385.8h0M536 386.4h0M537 385.7h0M538 385.6h0M539 385.4h0M540 384.9h0M541 384.9h0M542 384.3h0M543 381.5h0M544 380.2h0M545 382.1h0M546.3 378.4h0M547.6 381.2h0M548.9 371.5h0M550.2 361.8h0M551.5 350h0M552.8 341.6h0M554.1 334.4h0M555.4 329.9h0M556.7 324.1h0M558 310.5h0M580 239h0M587.4 238.2h0M572.6 242.8h0M577.9 244.4h0M582 241.5h0M584.4 241.1h0M590.7 242.8h0M591.8 246.4h0M599.2 245.1h0M604.1 244.4h0M568.5 249.7h0M565.1 253h0M609.3 251h0M574.3 255.9h0M575.9 254.9h0M585.2 255.4h0M614.8 258.2h0M595.9 261.1h0M611.5 262.5h0M602.1 263.6h0M570.5 264.1h0M560.7 274.3h0M562.8 277.2h0M567.2 275.9h0M607.4 272.3h0M612.8 273.4h0M606.6 276.2h0M597.5 273.9h0M579.2 278.4h0M564.8 282.5h0M566.4 285.4h0M588.5 280.8h0M586.4 284.4h0M576.7 284.1h0M598.9 283.3h0M571.3 286.6h0M580.8 288.2h0M583.6 291h0M600.8 289h0M603.3 291.5h0M605.7 291.5h0M608.7 287.4h0M610.7 289.8h0M613.6 294.8h0M561.5 293.1h0M558.5 275h0M558.5 305.1h0M559.5 300h0M590 260h0M593 266h0M572 266h0M578 263h0M556.5 318h0M557.5 312h0" stroke="#2f74b5" stroke-width="3" stroke-linecap="round" fill="none"/>
<path d="M391.7 317.2h4.6M394 314.9v4.6M392.8 323.9h4.6M395.1 321.6v4.6M393.9 323.2h4.6M396.2 320.9v4.6M395 322.1h4.6M397.3 319.8v4.6M396.1 318h4.6M398.4 315.7v4.6M397.2 320.1h4.6M399.5 317.8v4.6M398.3 321h4.6M400.6 318.7v4.6M399.4 318.3h4.6M401.7 316v4.6M400.5 319.3h4.6M402.8 317v4.6M401.6 320.2h4.6M403.9 317.9v4.6M402.7 320.6h4.6M405 318.3v4.6M403.8 318.7h4.6M406.1 316.4v4.6M404.9 319.6h4.6M407.2 317.3v4.6M406 323h4.6M408.3 320.7v4.6M407.1 323.1h4.6M409.4 320.8v4.6M408.2 317.3h4.6M410.5 315v4.6M409.3 323.4h4.6M411.6 321.1v4.6M410.4 318.4h4.6M412.7 316.1v4.6M411.5 320.8h4.6M413.8 318.5v4.6M412.6 315.8h4.6M414.9 313.5v4.6M413.7 317.1h4.6M416 314.8v4.6M414.8 315.6h4.6M417.1 313.3v4.6M415.9 317.8h4.6M418.2 315.5v4.6M417 316h4.6M419.3 313.7v4.6M418.1 315.9h4.6M420.4 313.6v4.6M419.2 315.2h4.6M421.5 312.9v4.6M420.3 314.2h4.6M422.6 311.9v4.6M421.4 315h4.6M423.7 312.7v4.6M422.5 312.9h4.6M424.8 310.6v4.6M423.6 311.9h4.6M425.9 309.6v4.6M424.7 310.3h4.6M427 308v4.6M425.8 309.2h4.6M428.1 306.9v4.6M426.9 309.3h4.6M429.2 307v4.6M428 310.5h4.6M430.3 308.2v4.6M429.1 311.2h4.6M431.4 308.9v4.6M430.2 308.6h4.6M432.5 306.3v4.6M431.3 312.2h4.6M433.6 309.9v4.6M432.4 310.4h4.6M434.7 308.1v4.6M433.5 307.7h4.6M435.8 305.4v4.6M434.6 307.9h4.6M436.9 305.6v4.6M435.7 306.8h4.6M438 304.5v4.6M436.8 303h4.6M439.1 300.7v4.6M437.9 307.6h4.6M440.2 305.3v4.6M439 306h4.6M441.3 303.7v4.6M440.1 302h4.6M442.4 299.7v4.6M441.2 306.4h4.6M443.5 304.1v4.6M442.3 303.3h4.6M444.6 301v4.6M443.4 303.5h4.6M445.7 301.2v4.6M444.5 300.2h4.6M446.8 297.9v4.6M445.6 303h4.6M447.9 300.7v4.6M446.7 303.5h4.6M449 301.2v4.6M447.8 301.5h4.6M450.1 299.2v4.6M448.9 301.9h4.6M451.2 299.6v4.6M450 297.9h4.6M452.3 295.6v4.6M451.1 302.1h4.6M453.4 299.8v4.6M452.2 300.6h4.6M454.5 298.3v4.6M453.3 300.2h4.6M455.6 297.9v4.6M454.4 301.1h4.6M456.7 298.8v4.6M455.5 301.2h4.6M457.8 298.9v4.6M456.6 298.4h4.6M458.9 296.1v4.6M457.7 299.1h4.6M460 296.8v4.6M458.8 299.6h4.6M461.1 297.3v4.6M459.9 295.2h4.6M462.2 292.9v4.6M461 296.1h4.6M463.3 293.8v4.6M462.1 293.4h4.6M464.4 291.1v4.6M463.2 295.5h4.6M465.5 293.2v4.6M464.3 296.3h4.6M466.6 294v4.6M465.4 293.9h4.6M467.7 291.6v4.6M466.5 292.1h4.6M468.8 289.8v4.6M467.6 292.5h4.6M469.9 290.2v4.6M468.7 293.3h4.6M471 291v4.6M469.8 290.4h4.6M472.1 288.1v4.6M470.9 290.1h4.6M473.2 287.8v4.6M472 292.1h4.6M474.3 289.8v4.6M473.1 289.3h4.6M475.4 287v4.6M474.2 290.7h4.6M476.5 288.4v4.6M475.3 288.9h4.6M477.6 286.6v4.6M476.4 287.9h4.6M478.7 285.6v4.6M477.5 290.8h4.6M479.8 288.5v4.6M478.6 291.1h4.6M480.9 288.8v4.6M479.7 288.5h4.6M482 286.2v4.6M480.8 292.5h4.6M483.1 290.2v4.6M481.9 289.6h4.6M484.2 287.3v4.6M483 290h4.6M485.3 287.7v4.6M484.1 289.5h4.6M486.4 287.2v4.6M485.2 287.8h4.6M487.5 285.5v4.6M486.3 290.5h4.6M488.6 288.2v4.6M487.4 289.3h4.6M489.7 287v4.6M488.5 289.8h4.6M490.8 287.5v4.6M489.6 289.3h4.6M491.9 287v4.6M490.7 288.5h4.6M493 286.2v4.6M491.8 292.1h4.6M494.1 289.8v4.6M492.9 289.6h4.6M495.2 287.3v4.6M494 288.7h4.6M496.3 286.4v4.6M495.1 289.8h4.6M497.4 287.5v4.6M496.2 287.4h4.6M498.5 285.1v4.6M497.3 289.4h4.6M499.6 287.1v4.6M498.4 292.5h4.6M500.7 290.2v4.6M499.5 288h4.6M501.8 285.7v4.6M500.6 289.5h4.6M502.9 287.2v4.6M501.7 287.3h4.6M504 285v4.6M502.8 288.9h4.6M505.1 286.6v4.6M503.9 290.3h4.6M506.2 288v4.6M505 287.5h4.6M507.3 285.2v4.6M506.1 287.6h4.6M508.4 285.3v4.6M507.2 290.4h4.6M509.5 288.1v4.6M508.3 289.2h4.6M510.6 286.9v4.6M509.4 289.7h4.6M511.7 287.4v4.6M510.5 289.6h4.6M512.8 287.3v4.6M511.6 287.2h4.6M513.9 284.9v4.6M512.7 286.7h4.6M515 284.4v4.6M513.8 286.5h4.6M516.1 284.2v4.6M514.9 289.6h4.6M517.2 287.3v4.6M516 287.1h4.6M518.3 284.8v4.6M517.1 286.7h4.6M519.4 284.4v4.6M518.2 288.4h4.6M520.5 286.1v4.6M519.3 288.9h4.6M521.6 286.6v4.6M520.4 289.5h4.6M522.7 287.2v4.6M521.5 286.9h4.6M523.8 284.6v4.6M522.6 291.1h4.6M524.9 288.8v4.6M523.7 288.2h4.6M526 285.9v4.6M524.8 289.8h4.6M527.1 287.5v4.6M525.9 289.8h4.6M528.2 287.5v4.6M527 288.8h4.6M529.3 286.5v4.6M528.1 291h4.6M530.4 288.7v4.6M529.2 291.3h4.6M531.5 289v4.6M530.3 292.9h4.6M532.6 290.6v4.6M531.4 294.5h4.6M533.7 292.2v4.6M532.5 295.5h4.6M534.8 293.2v4.6M533.6 294.6h4.6M535.9 292.3v4.6M534.7 295h4.6M537 292.7v4.6M535.8 294.4h4.6M538.1 292.1v4.6M536.9 293.6h4.6M539.2 291.3v4.6M538 297h4.6M540.3 294.7v4.6M539.1 296.6h4.6M541.4 294.3v4.6M540.2 298h4.6M542.5 295.7v4.6M541.3 298.8h4.6M543.6 296.5v4.6M542.4 301.3h4.6M544.7 299v4.6M543.5 301.8h4.6M545.8 299.5v4.6M544.6 307.2h4.6M546.9 304.9v4.6M545.7 307.2h4.6M548 304.9v4.6M546.8 307.4h4.6M549.1 305.1v4.6M547.9 311h4.6M550.2 308.7v4.6M549 316.2h4.6M551.3 313.9v4.6M550.1 322.8h4.6M552.4 320.5v4.6M551.2 328.5h4.6M553.5 326.2v4.6M552.3 330.4h4.6M554.6 328.1v4.6M553.4 336.7h4.6M555.7 334.4v4.6M554.5 342.2h4.6M556.8 339.9v4.6M555.6 348.4h4.6M557.9 346.1v4.6M427.2 296.2h4.6M429.5 293.9v4.6M443 298.4h4.6M445.3 296.1v4.6M541.5 277.7h4.6M543.8 275.4v4.6M547.2 286.6h4.6M549.5 284.3v4.6M538.6 301.1h4.6M540.9 298.8v4.6M545.1 301.1h4.6M547.4 298.8v4.6M560.1 370h4.6M562.4 367.7v4.6M562.3 368.9h4.6M564.6 366.6v4.6M561.7 332.7h4.6M564 330.4v4.6M589.3 332.7h4.6M591.6 330.4v4.6M557.4 353.4h4.6M559.7 351.1v4.6M559.2 370h4.6M561.5 367.7v4.6M562.4 369.3h4.6M564.7 367v4.6M560.7 374.3h4.6M563 372v4.6M564.5 382.9h4.6M566.8 380.6v4.6M568.9 382.3h4.6M571.2 380v4.6M565.6 385.7h4.6M567.9 383.4v4.6M567.3 387.9h4.6M569.6 385.6v4.6M576.4 387.9h4.6M578.7 385.6v4.6M581.1 384h4.6M583.4 381.7v4.6M586.1 387.9h4.6M588.4 385.6v4.6M603.3 388.3h4.6M605.6 386v4.6M606.1 386.1h4.6M608.4 383.8v4.6M601.8 389.4h4.6M604.1 387.1v4.6" stroke="#555" stroke-width="0.7" fill="none"/>
<line x1="558.1" y1="250.5" x2="558.1" y2="390.3" stroke="#2a2a2a" stroke-width="1.2" stroke-dasharray="3.3 2.3"/>
<text x="382.5" y="393.2" font-size="10.3" text-anchor="end" fill="#404040" textLength="5.56" lengthAdjust="spacingAndGlyphs">0</text>
<text x="382.6" y="368.9" font-size="10.3" text-anchor="end" fill="#404040" textLength="13.89" lengthAdjust="spacingAndGlyphs">0.2</text>
<text x="382.4" y="344.7" font-size="10.3" text-anchor="end" fill="#404040" textLength="13.89" lengthAdjust="spacingAndGlyphs">0.4</text>
<text x="382.5" y="320.4" font-size="10.3" text-anchor="end" fill="#404040" textLength="13.89" lengthAdjust="spacingAndGlyphs">0.6</text>
<text x="382.5" y="296.1" font-size="10.3" text-anchor="end" fill="#404040" textLength="13.89" lengthAdjust="spacingAndGlyphs">0.8</text>
<text x="382.6" y="271.8" font-size="10.3" text-anchor="end" fill="#404040" textLength="5.56" lengthAdjust="spacingAndGlyphs">1</text>
<text x="382.6" y="247.6" font-size="10.3" text-anchor="end" fill="#404040" textLength="13.89" lengthAdjust="spacingAndGlyphs">1.2</text>
<text x="382.4" y="223.3" font-size="10.3" text-anchor="end" fill="#404040" textLength="13.89" lengthAdjust="spacingAndGlyphs">1.4</text>
<text x="657.4" y="393.2" font-size="10.3" text-anchor="start" fill="#404040" textLength="5.73" lengthAdjust="spacingAndGlyphs">1</text>
<text x="657.4" y="308.2" font-size="10.3" text-anchor="start" fill="#404040" textLength="11.46" lengthAdjust="spacingAndGlyphs">10</text>
<text x="657.4" y="223.3" font-size="10.3" text-anchor="start" fill="#404040" textLength="17.19" lengthAdjust="spacingAndGlyphs">100</text>
<text x="392.5" y="410.8" font-size="11.6" text-anchor="middle" fill="#404040" textLength="6.45" lengthAdjust="spacingAndGlyphs">0</text>
<text x="456.2" y="410.8" font-size="11.6" text-anchor="middle" fill="#404040" textLength="19.35" lengthAdjust="spacingAndGlyphs">500</text>
<text x="520" y="410.8" font-size="11.6" text-anchor="middle" fill="#404040" textLength="25.81" lengthAdjust="spacingAndGlyphs">1000</text>
<text x="583.7" y="410.8" font-size="11.6" text-anchor="middle" fill="#404040" textLength="25.81" lengthAdjust="spacingAndGlyphs">1500</text>
<text x="647.5" y="410.8" font-size="11.6" text-anchor="middle" fill="#404040" textLength="25.81" lengthAdjust="spacingAndGlyphs">2000</text>
<text x="363.1" y="369.6" font-size="11.92" font-weight="normal" fill="#404040" textLength="107.99" lengthAdjust="spacingAndGlyphs" transform="rotate(-90 363.1 369.6)">Na, B, Al norm. conc.</text>
<text x="684.2" y="339" font-size="11.63" font-weight="normal" fill="#404040" textLength="72.12" lengthAdjust="spacingAndGlyphs" transform="rotate(-90 684.2 339)">H norm. conc.</text>
<text x="497.3" y="424.2" font-size="9.59" font-weight="normal" fill="#404040" textLength="45.59" lengthAdjust="spacingAndGlyphs">Depth (nm)</text>
<text x="571.3" y="325.8" font-size="10.90" font-weight="bold" fill="#3c3c3c" textLength="68.14" lengthAdjust="spacingAndGlyphs">Unaltered glass</text>
<text x="353.2" y="227.8" font-size="13.52" font-weight="bold" fill="#000" textLength="8.23" lengthAdjust="spacingAndGlyphs">d</text>
<rect x="470" y="209.3" width="100" height="10.2" fill="#ffffff"/>
<line x1="389" y1="220.4" x2="651" y2="220.4" stroke="#7a7a7a" stroke-width="1"/>
<rect x="426" y="1" width="21" height="21" fill="#fff000"/>
<circle cx="436.4" cy="11.1" r="8.2" fill="none" stroke="#3a2a10" stroke-width="0.7"/>
<path d="M435.3 9.2L432.9 5A7 7 0 0 0 429.4 11.1L434.2 11.1A2.2 2.2 0 0 1 435.3 9.2ZM438.6 11.1L443.4 11.1A7 7 0 0 0 439.9 5L437.5 9.2A2.2 2.2 0 0 1 438.6 11.1ZM435.3 13L432.9 17.2A7 7 0 0 0 439.9 17.2L437.5 13A2.2 2.2 0 0 1 435.3 13Z" fill="#141428"/>
<circle cx="436.4" cy="11.1" r="1.5" fill="#141428"/>
<rect x="429.1" y="210.3" width="20.8" height="21.4" fill="#fff000"/>
<circle cx="439.5" cy="221" r="8.2" fill="none" stroke="#3a2a10" stroke-width="0.7"/>
<path d="M438.4 219.1L436 214.9A7 7 0 0 0 432.5 221L437.3 221A2.2 2.2 0 0 1 438.4 219.1ZM441.7 221L446.5 221A7 7 0 0 0 443 214.9L440.6 219.1A2.2 2.2 0 0 1 441.7 221ZM438.4 222.9L436 227.1A7 7 0 0 0 443 227.1L440.6 222.9A2.2 2.2 0 0 1 438.4 222.9Z" fill="#141428"/>
<circle cx="439.5" cy="221" r="1.5" fill="#141428"/>
</svg>
</body></html>
